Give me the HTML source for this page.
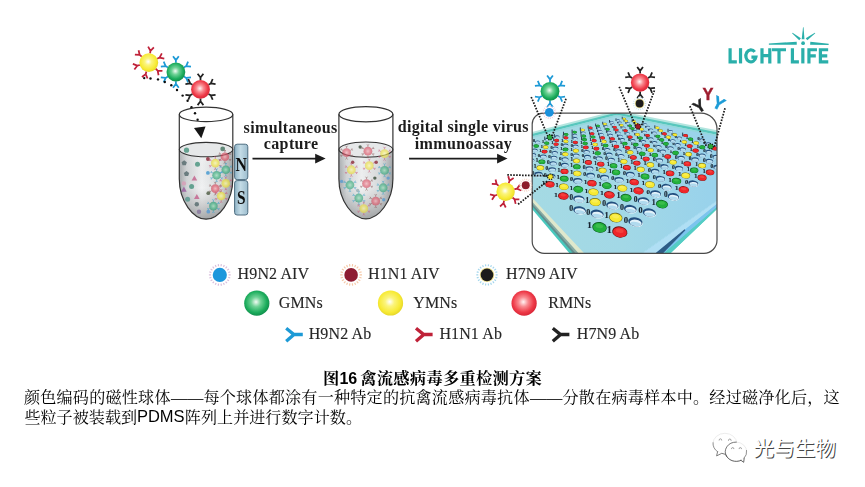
<!DOCTYPE html>
<html><head><meta charset="utf-8"><title>Figure 16</title>
<style>html,body{margin:0;padding:0;background:#fff;}body{width:865px;height:487px;overflow:hidden;font-family:"Liberation Sans",sans-serif;}</style></head>
<body>
<svg width="865" height="487" viewBox="0 0 865 487" style="display:block;font-family:'Liberation Serif',serif" role="img" aria-label="Figure 16: multiplexed avian influenza virus detection scheme">
<defs>
<radialGradient id="gG" cx="47%" cy="45%" r="55%"><stop offset="0" stop-color="#f2fbf4"/><stop offset="0.35" stop-color="#6fd296"/><stop offset="0.75" stop-color="#1fae5e"/><stop offset="1" stop-color="#0e8f4b"/></radialGradient>
<radialGradient id="gY" cx="47%" cy="45%" r="55%"><stop offset="0" stop-color="#ffffff"/><stop offset="0.33" stop-color="#fbf47c"/><stop offset="0.78" stop-color="#f7ea34"/><stop offset="1" stop-color="#e6d72a"/></radialGradient>
<radialGradient id="gR" cx="47%" cy="45%" r="55%"><stop offset="0" stop-color="#fff4f4"/><stop offset="0.35" stop-color="#f98a90"/><stop offset="0.75" stop-color="#ee3a48"/><stop offset="1" stop-color="#d92536"/></radialGradient>
<radialGradient id="sG"><stop offset="0" stop-color="#9fe0bc"/><stop offset="0.6" stop-color="#45b888"/><stop offset="1" stop-color="#2a9a70"/></radialGradient>
<radialGradient id="sY"><stop offset="0" stop-color="#fffbb0"/><stop offset="0.6" stop-color="#f4e84a"/><stop offset="1" stop-color="#e4d63a"/></radialGradient>
<radialGradient id="sR"><stop offset="0" stop-color="#f7aab2"/><stop offset="0.6" stop-color="#e25a6c"/><stop offset="1" stop-color="#cf4458"/></radialGradient>
<linearGradient id="liq" x1="0" y1="0" x2="1" y2="0"><stop offset="0" stop-color="#a4a8ab"/><stop offset="0.14" stop-color="#d2d5d7"/><stop offset="0.42" stop-color="#f1f2f3"/><stop offset="0.78" stop-color="#d6d9da"/><stop offset="1" stop-color="#9b9fa2"/></linearGradient>
<linearGradient id="liqv" x1="0" y1="0" x2="0" y2="1"><stop offset="0" stop-color="#fff" stop-opacity="0.2"/><stop offset="0.55" stop-color="#888" stop-opacity="0"/><stop offset="1" stop-color="#4a4e50" stop-opacity="0.45"/></linearGradient>
<linearGradient id="mag" x1="0" y1="0" x2="1" y2="0"><stop offset="0" stop-color="#8fb3c6"/><stop offset="0.45" stop-color="#c3dbe6"/><stop offset="1" stop-color="#9dbdce"/></linearGradient>
<filter id="soft" x="-5%" y="-5%" width="110%" height="110%"><feGaussianBlur stdDeviation="0.55"/></filter>
<filter id="soft2" x="-5%" y="-5%" width="110%" height="110%"><feGaussianBlur stdDeviation="0.7"/></filter>
<linearGradient id="chipsurf" x1="0" y1="0" x2="1" y2="0"><stop offset="0" stop-color="#a6dbe2"/><stop offset="0.45" stop-color="#a2d8e6"/><stop offset="1" stop-color="#90cdf0"/></linearGradient>
<clipPath id="frameclip"><path d="M543.2 113.1 H701 A16 16 0 0 1 717 129.1 V240.3 A13 13 0 0 1 704 253.3 H544.2 A12 12 0 0 1 532.2 241.3 V124.1 A11 11 0 0 1 543.2 113.1 Z"/></clipPath>

</defs>
<g filter="url(#soft)">
<path d="M150.08 53.49 L150.46 50.82 M150.46 50.82 L153.85 47.42 M150.46 50.82 L148.13 46.62 M157.14 58.71 L159.59 57.57 M159.59 57.57 L164.28 58.57 M159.59 57.57 L161.84 53.33 M155.64 68.76 L157.64 70.56 M157.64 70.56 L158.56 75.27 M157.64 70.56 L162.43 70.98 M146.42 71.49 L145.72 74.09 M145.72 74.09 L141.94 77.05 M145.72 74.09 L147.52 78.54 M139.91 64.98 L137.31 65.68 M137.31 65.68 L132.86 63.88 M137.31 65.68 L134.35 69.46 M141.75 56.69 L139.68 54.95 M139.68 54.95 L138.6 50.27 M139.68 54.95 L134.89 54.7" fill="none" stroke="#bf2038" stroke-width="1.75" stroke-linecap="butt"/>
<circle cx="148.8" cy="62.6" r="9.4" fill="url(#gY)"/>
<path d="M175.9 62.8 L175.9 60.1 M175.9 60.1 L178.79 56.27 M175.9 60.1 L173.01 56.27 M183.87 67.4 L186.21 66.05 M186.21 66.05 L190.97 66.63 M186.21 66.05 L188.08 61.63 M183.87 76.6 L186.21 77.95 M186.21 77.95 L188.08 82.37 M186.21 77.95 L190.97 77.37 M175.9 81.2 L175.9 83.9 M175.9 83.9 L173.01 87.73 M175.9 83.9 L178.79 87.73 M167.93 76.6 L165.59 77.95 M165.59 77.95 L160.83 77.37 M165.59 77.95 L163.72 82.37 M167.93 67.4 L165.59 66.05 M165.59 66.05 L163.72 61.63 M165.59 66.05 L160.83 66.63" fill="none" stroke="#1f9ad6" stroke-width="1.75" stroke-linecap="butt"/>
<circle cx="175.9" cy="72" r="9.4" fill="url(#gG)"/>
<path d="M200.5 80.2 L200.5 77.5 M200.5 77.5 L203.39 73.67 M200.5 77.5 L197.61 73.67 M208.47 84.8 L210.81 83.45 M210.81 83.45 L215.57 84.03 M210.81 83.45 L212.68 79.03 M208.47 94 L210.81 95.35 M210.81 95.35 L212.68 99.77 M210.81 95.35 L215.57 94.77 M200.5 98.6 L200.5 101.3 M200.5 101.3 L197.61 105.13 M200.5 101.3 L203.39 105.13 M192.53 94 L190.19 95.35 M190.19 95.35 L185.43 94.77 M190.19 95.35 L188.32 99.77 M192.53 84.8 L190.19 83.45 M190.19 83.45 L188.32 79.03 M190.19 83.45 L185.43 84.03" fill="none" stroke="#222" stroke-width="1.75" stroke-linecap="butt"/>
<circle cx="200.5" cy="89.4" r="9.4" fill="url(#gR)"/>
<g fill="#111"><circle cx="144.2" cy="78.1" r="1.2"/><circle cx="150.5" cy="78.5" r="1.2"/><circle cx="158" cy="79.4" r="1.2"/><circle cx="164.8" cy="82" r="1.2"/><circle cx="171.3" cy="85.3" r="1.2"/><circle cx="177" cy="90" r="1.2"/><circle cx="182.6" cy="95.6" r="1.2"/><circle cx="187.6" cy="100.8" r="1.2"/><circle cx="191.5" cy="107.3" r="1.2"/><circle cx="195" cy="113.2" r="1.2"/><circle cx="197.6" cy="119.8" r="1.2"/></g>
<path d="M194 127.9 L199.4 127.2 L205.5 126.6 L201.3 138.2 Z" fill="#151515"/>
<path d="M179.3 149.6 V179 C179.3 201.51 193.48 219.2 206.05 219.2 C218.62 219.2 232.8 201.51 232.8 179 V149.6 A26.75 7.2 0 0 1 179.3 149.6 Z" fill="url(#liq)"/>
<path d="M179.3 149.6 V179 C179.3 201.51 193.48 219.2 206.05 219.2 C218.62 219.2 232.8 201.51 232.8 179 V149.6 A26.75 7.2 0 0 1 179.3 149.6 Z" fill="url(#liqv)"/>
<ellipse cx="206.05" cy="149.6" rx="26.75" ry="7.2" fill="#e6e8e9" stroke="#333" stroke-width="1.1"/>
<g filter="url(#soft2)">
<circle cx="186.5" cy="150.2" r="2.6" fill="#4f9683" opacity="0.85"/>
<circle cx="222.7" cy="148.9" r="2.4" fill="#4d7a66" opacity="0.85"/>
<circle cx="197.5" cy="164.2" r="2.5" fill="#4f9683" opacity="0.85"/>
<circle cx="191.6" cy="186.4" r="2.5" fill="#4f9683" opacity="0.85"/>
<circle cx="187.6" cy="199.3" r="2.5" fill="#5a9a90" opacity="0.85"/>
<circle cx="196.8" cy="204.3" r="2.2" fill="#5b6f72" opacity="0.85"/>
<circle cx="199" cy="211.7" r="2.2" fill="#8a78a0" opacity="0.85"/>
<circle cx="183.9" cy="183.4" r="2.2" fill="#d8a0b8" opacity="0.85"/>
<polygon points="184.2,160.3 186.86,162.23 185.85,165.37 182.55,165.37 181.54,162.23" fill="#5b6f72" opacity="0.85"/>
<polygon points="186.5,171 189.16,172.93 188.15,176.07 184.85,176.07 183.84,172.93" fill="#5b6f72" opacity="0.85"/>
<polygon points="194.4,175.4 191.6,180.6 197.2,180.6" fill="#c4668f" opacity="0.85"/>
<polygon points="183.9,186.5 181.1,191.7 186.7,191.7" fill="#9a5fa0" opacity="0.85"/>
<polygon points="196.8,193.9 194,199.1 199.6,199.1" fill="#c4668f" opacity="0.85"/>
<g opacity="0.68">
<path d="M224.9 152.7 L224.9 151.3 M224.9 151.3 L225.86 150.02 M224.9 151.3 L223.94 150.02 M228.45 154.75 L229.66 154.05 M229.66 154.05 L231.25 154.24 M229.66 154.05 L230.29 152.58 M228.45 158.85 L229.66 159.55 M229.66 159.55 L230.29 161.02 M229.66 159.55 L231.25 159.36 M224.9 160.9 L224.9 162.3 M224.9 162.3 L223.94 163.58 M224.9 162.3 L225.86 163.58 M221.35 158.85 L220.14 159.55 M220.14 159.55 L218.55 159.36 M220.14 159.55 L219.51 161.02 M221.35 154.75 L220.14 154.05 M220.14 154.05 L219.51 152.58 M220.14 154.05 L218.55 154.24" fill="none" stroke="#8a5a5a" stroke-width="0.9"/>
<circle cx="224.9" cy="156.8" r="4.3" fill="url(#sR)"/>
</g>
<g opacity="0.68">
<path d="M215.3 159 L215.3 157.6 M215.3 157.6 L216.26 156.32 M215.3 157.6 L214.34 156.32 M218.85 161.05 L220.06 160.35 M220.06 160.35 L221.65 160.54 M220.06 160.35 L220.69 158.88 M218.85 165.15 L220.06 165.85 M220.06 165.85 L220.69 167.32 M220.06 165.85 L221.65 165.66 M215.3 167.2 L215.3 168.6 M215.3 168.6 L214.34 169.88 M215.3 168.6 L216.26 169.88 M211.75 165.15 L210.54 165.85 M210.54 165.85 L208.95 165.66 M210.54 165.85 L209.91 167.32 M211.75 161.05 L210.54 160.35 M210.54 160.35 L209.91 158.88 M210.54 160.35 L208.95 160.54" fill="none" stroke="#c85a78" stroke-width="0.9"/>
<circle cx="215.3" cy="163.1" r="4.3" fill="url(#sY)"/>
</g>
<g opacity="0.68">
<path d="M225.8 165.6 L225.8 164.2 M225.8 164.2 L226.76 162.92 M225.8 164.2 L224.84 162.92 M229.35 167.65 L230.56 166.95 M230.56 166.95 L232.15 167.14 M230.56 166.95 L231.19 165.48 M229.35 171.75 L230.56 172.45 M230.56 172.45 L231.19 173.92 M230.56 172.45 L232.15 172.26 M225.8 173.8 L225.8 175.2 M225.8 175.2 L224.84 176.48 M225.8 175.2 L226.76 176.48 M222.25 171.75 L221.04 172.45 M221.04 172.45 L219.45 172.26 M221.04 172.45 L220.41 173.92 M222.25 167.65 L221.04 166.95 M221.04 166.95 L220.41 165.48 M221.04 166.95 L219.45 167.14" fill="none" stroke="#3aa0c8" stroke-width="0.9"/>
<circle cx="225.8" cy="169.7" r="4.3" fill="url(#sG)"/>
</g>
<g opacity="0.68">
<path d="M216.6 171.2 L216.6 169.8 M216.6 169.8 L217.56 168.52 M216.6 169.8 L215.64 168.52 M220.15 173.25 L221.36 172.55 M221.36 172.55 L222.95 172.74 M221.36 172.55 L221.99 171.08 M220.15 177.35 L221.36 178.05 M221.36 178.05 L221.99 179.52 M221.36 178.05 L222.95 177.86 M216.6 179.4 L216.6 180.8 M216.6 180.8 L215.64 182.08 M216.6 180.8 L217.56 182.08 M213.05 177.35 L211.84 178.05 M211.84 178.05 L210.25 177.86 M211.84 178.05 L211.21 179.52 M213.05 173.25 L211.84 172.55 M211.84 172.55 L211.21 171.08 M211.84 172.55 L210.25 172.74" fill="none" stroke="#3aa0c8" stroke-width="0.9"/>
<circle cx="216.6" cy="175.3" r="4.3" fill="url(#sG)"/>
</g>
<g opacity="0.68">
<path d="M225.8 179.3 L225.8 177.9 M225.8 177.9 L226.76 176.62 M225.8 177.9 L224.84 176.62 M229.35 181.35 L230.56 180.65 M230.56 180.65 L232.15 180.84 M230.56 180.65 L231.19 179.18 M229.35 185.45 L230.56 186.15 M230.56 186.15 L231.19 187.62 M230.56 186.15 L232.15 185.96 M225.8 187.5 L225.8 188.9 M225.8 188.9 L224.84 190.18 M225.8 188.9 L226.76 190.18 M222.25 185.45 L221.04 186.15 M221.04 186.15 L219.45 185.96 M221.04 186.15 L220.41 187.62 M222.25 181.35 L221.04 180.65 M221.04 180.65 L220.41 179.18 M221.04 180.65 L219.45 180.84" fill="none" stroke="#c85a78" stroke-width="0.9"/>
<circle cx="225.8" cy="183.4" r="4.3" fill="url(#sY)"/>
</g>
<g opacity="0.68">
<path d="M215.3 184.5 L215.3 183.1 M215.3 183.1 L216.26 181.82 M215.3 183.1 L214.34 181.82 M218.85 186.55 L220.06 185.85 M220.06 185.85 L221.65 186.04 M220.06 185.85 L220.69 184.38 M218.85 190.65 L220.06 191.35 M220.06 191.35 L220.69 192.82 M220.06 191.35 L221.65 191.16 M215.3 192.7 L215.3 194.1 M215.3 194.1 L214.34 195.38 M215.3 194.1 L216.26 195.38 M211.75 190.65 L210.54 191.35 M210.54 191.35 L208.95 191.16 M210.54 191.35 L209.91 192.82 M211.75 186.55 L210.54 185.85 M210.54 185.85 L209.91 184.38 M210.54 185.85 L208.95 186.04" fill="none" stroke="#8a5a5a" stroke-width="0.9"/>
<circle cx="215.3" cy="188.6" r="4.3" fill="url(#sR)"/>
</g>
<g opacity="0.68">
<path d="M221.2 191.9 L221.2 190.5 M221.2 190.5 L222.16 189.22 M221.2 190.5 L220.24 189.22 M224.75 193.95 L225.96 193.25 M225.96 193.25 L227.55 193.44 M225.96 193.25 L226.59 191.78 M224.75 198.05 L225.96 198.75 M225.96 198.75 L226.59 200.22 M225.96 198.75 L227.55 198.56 M221.2 200.1 L221.2 201.5 M221.2 201.5 L220.24 202.78 M221.2 201.5 L222.16 202.78 M217.65 198.05 L216.44 198.75 M216.44 198.75 L214.85 198.56 M216.44 198.75 L215.81 200.22 M217.65 193.95 L216.44 193.25 M216.44 193.25 L215.81 191.78 M216.44 193.25 L214.85 193.44" fill="none" stroke="#c85a78" stroke-width="0.9"/>
<circle cx="221.2" cy="196" r="4.3" fill="url(#sY)"/>
</g>
<g opacity="0.68">
<path d="M213.4 202 L213.4 200.6 M213.4 200.6 L214.36 199.32 M213.4 200.6 L212.44 199.32 M216.95 204.05 L218.16 203.35 M218.16 203.35 L219.75 203.54 M218.16 203.35 L218.79 201.88 M216.95 208.15 L218.16 208.85 M218.16 208.85 L218.79 210.32 M218.16 208.85 L219.75 208.66 M213.4 210.2 L213.4 211.6 M213.4 211.6 L212.44 212.88 M213.4 211.6 L214.36 212.88 M209.85 208.15 L208.64 208.85 M208.64 208.85 L207.05 208.66 M208.64 208.85 L208.01 210.32 M209.85 204.05 L208.64 203.35 M208.64 203.35 L208.01 201.88 M208.64 203.35 L207.05 203.54" fill="none" stroke="#3aa0c8" stroke-width="0.9"/>
<circle cx="213.4" cy="206.1" r="4.3" fill="url(#sG)"/>
</g>
<circle cx="207.9" cy="159" r="1.9" fill="#8c2a3a" opacity="0.85"/>
<circle cx="207.9" cy="172.9" r="1.9" fill="#4a9ad0" opacity="0.85"/>
<circle cx="208.3" cy="193.2" r="1.9" fill="#55604a" opacity="0.85"/>
<circle cx="208.3" cy="211.7" r="1.9" fill="#5a9ad0" opacity="0.85"/>
</g>
<path d="M179.3 114.4 V179 C179.3 201.51 193.48 219.2 206.05 219.2 C218.62 219.2 232.8 201.51 232.8 179 V114.4" fill="none" stroke="#333" stroke-width="1.2"/>
<ellipse cx="206.05" cy="114.4" rx="26.75" ry="7.2" fill="none" stroke="#333" stroke-width="1.2"/>
<rect x="234.6" y="144.2" width="13.2" height="35.4" rx="2.5" fill="url(#mag)" stroke="#4e6d80" stroke-width="1"/>
<rect x="234.6" y="180.6" width="13.2" height="34.4" rx="2.5" fill="url(#mag)" stroke="#4e6d80" stroke-width="1"/>
<text transform="translate(241.3 170.6) scale(0.88 1)" text-anchor="middle" font-family="Liberation Serif, serif" font-weight="700" font-size="18" fill="#111">N</text>
<text transform="translate(241.2 203.6) scale(0.86 1)" text-anchor="middle" font-family="Liberation Serif, serif" font-weight="700" font-size="18" fill="#111">S</text>
<g font-family="Liberation Serif, serif" font-weight="700" font-size="16" fill="#1a1a1a" letter-spacing="0.36">
<text x="243.6" y="132.9">simultaneous</text>
<text x="263.8" y="148.8">capture</text>
<text x="397.8" y="131.5" letter-spacing="0.28">digital single virus</text>
<text x="414.8" y="148.5">immunoassay</text>
</g>
<path d="M252.5 158.6 H316" stroke="#1a1a1a" stroke-width="1.6" fill="none"/><path d="M315.2 153.8 L325.6 158.6 L315.2 163.4 Z" fill="#1a1a1a"/>
<path d="M409.1 158.6 H498" stroke="#1a1a1a" stroke-width="1.6" fill="none"/><path d="M497.1 153.7 L507.5 158.6 L497.1 163.5 Z" fill="#1a1a1a"/>
<path d="M338.9 149.6 V179 C338.9 201.29 353.21 218.8 365.9 218.8 C378.59 218.8 392.9 201.29 392.9 179 V149.6 A27 7.6 0 0 1 338.9 149.6 Z" fill="url(#liq)"/>
<path d="M338.9 149.6 V179 C338.9 201.29 353.21 218.8 365.9 218.8 C378.59 218.8 392.9 201.29 392.9 179 V149.6 A27 7.6 0 0 1 338.9 149.6 Z" fill="url(#liqv)"/>
<ellipse cx="365.9" cy="149.6" rx="27" ry="7.6" fill="#e6e8e9" stroke="#333" stroke-width="1.1"/>
<g filter="url(#soft2)">
<g opacity="0.62">
<path d="M346.6 148.4 L346.6 147 M346.6 147 L347.56 145.72 M346.6 147 L345.64 145.72 M350.24 150.5 L351.45 149.8 M351.45 149.8 L353.04 150 M351.45 149.8 L352.08 148.33 M350.24 154.7 L351.45 155.4 M351.45 155.4 L352.08 156.87 M351.45 155.4 L353.04 155.21 M346.6 156.8 L346.6 158.2 M346.6 158.2 L345.64 159.48 M346.6 158.2 L347.56 159.48 M342.96 154.7 L341.75 155.4 M341.75 155.4 L340.16 155.21 M341.75 155.4 L341.13 156.87 M342.96 150.5 L341.75 149.8 M341.75 149.8 L341.13 148.33 M341.75 149.8 L340.16 150" fill="none" stroke="#8a5a5a" stroke-width="0.9"/>
<circle cx="346.6" cy="152.6" r="4.4" fill="url(#sR)"/>
</g>
<g opacity="0.62">
<path d="M367.92 147.02 L367.92 145.62 M367.92 145.62 L368.89 144.34 M367.92 145.62 L366.96 144.34 M371.56 149.12 L372.77 148.42 M372.77 148.42 L374.36 148.61 M372.77 148.42 L373.4 146.94 M371.56 153.32 L372.77 154.02 M372.77 154.02 L373.4 155.49 M372.77 154.02 L374.36 153.82 M367.92 155.42 L367.92 156.82 M367.92 156.82 L366.96 158.09 M367.92 156.82 L368.89 158.09 M364.29 153.32 L363.07 154.02 M363.07 154.02 L361.49 153.82 M363.07 154.02 L362.45 155.49 M364.29 149.12 L363.07 148.42 M363.07 148.42 L362.45 146.94 M363.07 148.42 L361.49 148.61" fill="none" stroke="#8a5a5a" stroke-width="0.9"/>
<circle cx="367.92" cy="151.22" r="4.4" fill="url(#sR)"/>
</g>
<g opacity="0.62">
<path d="M384.54 149.51 L384.54 148.11 M384.54 148.11 L385.5 146.83 M384.54 148.11 L383.58 146.83 M388.18 151.61 L389.39 150.91 M389.39 150.91 L390.98 151.1 M389.39 150.91 L390.02 149.44 M388.18 155.81 L389.39 156.51 M389.39 156.51 L390.02 157.98 M389.39 156.51 L390.98 156.31 M384.54 157.91 L384.54 159.31 M384.54 159.31 L383.58 160.59 M384.54 159.31 L385.5 160.59 M380.9 155.81 L379.69 156.51 M379.69 156.51 L378.1 156.31 M379.69 156.51 L379.07 157.98 M380.9 151.61 L379.69 150.91 M379.69 150.91 L379.07 149.44 M379.69 150.91 L378.1 151.1" fill="none" stroke="#c85a78" stroke-width="0.9"/>
<circle cx="384.54" cy="153.71" r="4.4" fill="url(#sY)"/>
</g>
<g opacity="0.62">
<path d="M351.31 165.57 L351.31 164.17 M351.31 164.17 L352.27 162.89 M351.31 164.17 L350.35 162.89 M354.95 167.67 L356.16 166.97 M356.16 166.97 L357.75 167.17 M356.16 166.97 L356.78 165.5 M354.95 171.87 L356.16 172.57 M356.16 172.57 L356.78 174.04 M356.16 172.57 L357.75 172.38 M351.31 173.97 L351.31 175.37 M351.31 175.37 L350.35 176.65 M351.31 175.37 L352.27 176.65 M347.67 171.87 L346.46 172.57 M346.46 172.57 L344.87 172.38 M346.46 172.57 L345.83 174.04 M347.67 167.67 L346.46 166.97 M346.46 166.97 L345.83 165.5 M346.46 166.97 L344.87 167.17" fill="none" stroke="#c85a78" stroke-width="0.9"/>
<circle cx="351.31" cy="169.77" r="4.4" fill="url(#sY)"/>
</g>
<g opacity="0.62">
<path d="M369.31 161.42 L369.31 160.02 M369.31 160.02 L370.27 158.74 M369.31 160.02 L368.35 158.74 M372.95 163.52 L374.16 162.82 M374.16 162.82 L375.75 163.01 M374.16 162.82 L374.78 161.34 M372.95 167.72 L374.16 168.42 M374.16 168.42 L374.78 169.89 M374.16 168.42 L375.75 168.22 M369.31 169.82 L369.31 171.22 M369.31 171.22 L368.35 172.5 M369.31 171.22 L370.27 172.5 M365.67 167.72 L364.46 168.42 M364.46 168.42 L362.87 168.22 M364.46 168.42 L363.83 169.89 M365.67 163.52 L364.46 162.82 M364.46 162.82 L363.83 161.34 M364.46 162.82 L362.87 163.01" fill="none" stroke="#c85a78" stroke-width="0.9"/>
<circle cx="369.31" cy="165.62" r="4.4" fill="url(#sY)"/>
</g>
<g opacity="0.62">
<path d="M384.54 166.13 L384.54 164.73 M384.54 164.73 L385.5 163.45 M384.54 164.73 L383.58 163.45 M388.18 168.23 L389.39 167.53 M389.39 167.53 L390.98 167.72 M389.39 167.53 L390.02 166.05 M388.18 172.43 L389.39 173.13 M389.39 173.13 L390.02 174.6 M389.39 173.13 L390.98 172.93 M384.54 174.53 L384.54 175.93 M384.54 175.93 L383.58 177.2 M384.54 175.93 L385.5 177.2 M380.9 172.43 L379.69 173.13 M379.69 173.13 L378.1 172.93 M379.69 173.13 L379.07 174.6 M380.9 168.23 L379.69 167.53 M379.69 167.53 L379.07 166.05 M379.69 167.53 L378.1 167.72" fill="none" stroke="#3aa0c8" stroke-width="0.9"/>
<circle cx="384.54" cy="170.33" r="4.4" fill="url(#sG)"/>
</g>
<g opacity="0.62">
<path d="M349.92 180.8 L349.92 179.4 M349.92 179.4 L350.89 178.12 M349.92 179.4 L348.96 178.12 M353.56 182.9 L354.77 182.2 M354.77 182.2 L356.36 182.4 M354.77 182.2 L355.4 180.73 M353.56 187.1 L354.77 187.8 M354.77 187.8 L355.4 189.28 M354.77 187.8 L356.36 187.61 M349.92 189.2 L349.92 190.6 M349.92 190.6 L348.96 191.88 M349.92 190.6 L350.89 191.88 M346.29 187.1 L345.07 187.8 M345.07 187.8 L343.49 187.61 M345.07 187.8 L344.45 189.28 M346.29 182.9 L345.07 182.2 M345.07 182.2 L344.45 180.73 M345.07 182.2 L343.49 182.4" fill="none" stroke="#3aa0c8" stroke-width="0.9"/>
<circle cx="349.92" cy="185" r="4.4" fill="url(#sG)"/>
</g>
<g opacity="0.62">
<path d="M366.54 179.42 L366.54 178.02 M366.54 178.02 L367.5 176.74 M366.54 178.02 L365.58 176.74 M370.18 181.52 L371.39 180.82 M371.39 180.82 L372.98 181.01 M371.39 180.82 L372.01 179.35 M370.18 185.72 L371.39 186.42 M371.39 186.42 L372.01 187.89 M371.39 186.42 L372.98 186.22 M366.54 187.82 L366.54 189.22 M366.54 189.22 L365.58 190.5 M366.54 189.22 L367.5 190.5 M362.9 185.72 L361.69 186.42 M361.69 186.42 L360.1 186.22 M361.69 186.42 L361.06 187.89 M362.9 181.52 L361.69 180.82 M361.69 180.82 L361.06 179.35 M361.69 180.82 L360.1 181.01" fill="none" stroke="#8a5a5a" stroke-width="0.9"/>
<circle cx="366.54" cy="183.62" r="4.4" fill="url(#sR)"/>
</g>
<g opacity="0.62">
<path d="M383.16 183.57 L383.16 182.17 M383.16 182.17 L384.12 180.89 M383.16 182.17 L382.19 180.89 M386.79 185.67 L388.01 184.97 M388.01 184.97 L389.59 185.17 M388.01 184.97 L388.63 183.5 M386.79 189.87 L388.01 190.57 M388.01 190.57 L388.63 192.04 M388.01 190.57 L389.59 190.38 M383.16 191.97 L383.16 193.37 M383.16 193.37 L382.19 194.65 M383.16 193.37 L384.12 194.65 M379.52 189.87 L378.31 190.57 M378.31 190.57 L376.72 190.38 M378.31 190.57 L377.68 192.04 M379.52 185.67 L378.31 184.97 M378.31 184.97 L377.68 183.5 M378.31 184.97 L376.72 185.17" fill="none" stroke="#3aa0c8" stroke-width="0.9"/>
<circle cx="383.16" cy="187.77" r="4.4" fill="url(#sG)"/>
</g>
<g opacity="0.62">
<path d="M358.79 193.82 L358.79 192.42 M358.79 192.42 L359.75 191.14 M358.79 192.42 L357.82 191.14 M362.42 195.92 L363.64 195.22 M363.64 195.22 L365.22 195.41 M363.64 195.22 L364.26 193.75 M362.42 200.12 L363.64 200.82 M363.64 200.82 L364.26 202.29 M363.64 200.82 L365.22 200.62 M358.79 202.22 L358.79 203.62 M358.79 203.62 L357.82 204.9 M358.79 203.62 L359.75 204.9 M355.15 200.12 L353.94 200.82 M353.94 200.82 L352.35 200.62 M353.94 200.82 L353.31 202.29 M355.15 195.92 L353.94 195.22 M353.94 195.22 L353.31 193.75 M353.94 195.22 L352.35 195.41" fill="none" stroke="#3aa0c8" stroke-width="0.9"/>
<circle cx="358.79" cy="198.02" r="4.4" fill="url(#sG)"/>
</g>
<g opacity="0.62">
<path d="M375.68 196.86 L375.68 195.46 M375.68 195.46 L376.64 194.19 M375.68 195.46 L374.72 194.19 M379.32 198.96 L380.53 198.26 M380.53 198.26 L382.12 198.46 M380.53 198.26 L381.15 196.79 M379.32 203.16 L380.53 203.86 M380.53 203.86 L381.15 205.34 M380.53 203.86 L382.12 203.67 M375.68 205.26 L375.68 206.66 M375.68 206.66 L374.72 207.94 M375.68 206.66 L376.64 207.94 M372.04 203.16 L370.83 203.86 M370.83 203.86 L369.24 203.67 M370.83 203.86 L370.2 205.34 M372.04 198.96 L370.83 198.26 M370.83 198.26 L370.2 196.79 M370.83 198.26 L369.24 198.46" fill="none" stroke="#8a5a5a" stroke-width="0.9"/>
<circle cx="375.68" cy="201.06" r="4.4" fill="url(#sR)"/>
</g>
<g opacity="0.62">
<path d="M363.77 204.34 L363.77 202.94 M363.77 202.94 L364.73 201.66 M363.77 202.94 L362.81 201.66 M367.41 206.44 L368.62 205.74 M368.62 205.74 L370.21 205.94 M368.62 205.74 L369.25 204.27 M367.41 210.64 L368.62 211.34 M368.62 211.34 L369.25 212.81 M368.62 211.34 L370.21 211.15 M363.77 212.74 L363.77 214.14 M363.77 214.14 L362.81 215.42 M363.77 214.14 L364.73 215.42 M360.13 210.64 L358.92 211.34 M358.92 211.34 L357.33 211.15 M358.92 211.34 L358.3 212.81 M360.13 206.44 L358.92 205.74 M358.92 205.74 L358.3 204.27 M358.92 205.74 L357.33 205.94" fill="none" stroke="#c85a78" stroke-width="0.9"/>
<circle cx="363.77" cy="208.54" r="4.4" fill="url(#sY)"/>
</g>
<circle cx="360.17" cy="147.06" r="1.7" fill="#3a4a3a" opacity="0.8"/>
<circle cx="352.69" cy="162.29" r="1.7" fill="#8c2a3a" opacity="0.8"/>
<circle cx="376.23" cy="162.29" r="1.7" fill="#8c2a3a" opacity="0.8"/>
<circle cx="374.85" cy="178.08" r="1.7" fill="#3a4a3a" opacity="0.8"/>
<circle cx="341.62" cy="181.4" r="1.7" fill="#5a9ad0" opacity="0.8"/>
<circle cx="388.14" cy="178.08" r="1.7" fill="#5a9ad0" opacity="0.8"/>
<circle cx="383.71" cy="199.68" r="1.7" fill="#5a9ad0" opacity="0.8"/>
<circle cx="357.68" cy="190.54" r="1.7" fill="#9ab0b8" opacity="0.8"/>
</g>
<path d="M338.9 114.2 V179 C338.9 201.29 353.21 218.8 365.9 218.8 C378.59 218.8 392.9 201.29 392.9 179 V114.2" fill="none" stroke="#333" stroke-width="1.2"/>
<ellipse cx="365.9" cy="114.2" rx="27" ry="7.6" fill="none" stroke="#333" stroke-width="1.2"/>
<g clip-path="url(#frameclip)">
<rect x="530" y="112" width="190" height="143" fill="#fff"/>
<polygon points="500,162.38 612,280.94 612,303.64 500,171.03" fill="#49c8bd"/>
<polygon points="500,162.38 612,280.94 612,298.27 500,168.99" fill="#5f8f8e"/>
<polygon points="500,162.38 612,280.94 612,294.56 500,167.57" fill="#86aaa4"/>
<polygon points="500,162.38 612,280.94 612,290.43 500,166" fill="#dfe8cc"/>
<polygon points="596,285.64 745,181.22 745,182.19 596,324.22" fill="#55cdc4"/>
<polygon points="596,285.64 745,181.22 745,182.47 596,312.63" fill="#7cc4ee"/>
<polygon points="616.8,112.5 484.06,146.2 607.15,277.82 793.2,147.43" fill="url(#chipsurf)"/>
<polygon points="596,285.64 745,181.22 745,181.59 596,301.14" fill="#b0dff4"/>
<polygon points="596,301.14 745,181.59 745,182.47 596,312.63" fill="#7cc4ee"/>
<polygon points="596,312.63 745,182.47 745,182.19 596,324.22" fill="#55cdc4"/>
<polygon points="684.6,229.2 650,257.81 658,258.47 685.4,230.2" fill="#2d5b86"/>
<path d="M484.06 146.5 L616.8 112.8 L793.2 147.73" fill="none" stroke="#b4e5df" stroke-width="4.6" stroke-linejoin="miter"/>
<path d="M484.06 147.4 L616.8 113.7 L793.2 148.63" fill="none" stroke="#58c7bd" stroke-width="2.3" stroke-linejoin="miter"/>
<path d="M484.06 149.3 L616.8 115.6 L793.2 150.53" fill="none" stroke="#93d8dc" stroke-width="1.5" stroke-linejoin="miter"/>
<g font-weight="700" fill="#17222e" stroke="#17222e" stroke-width="0.18" text-anchor="middle" font-family="Liberation Serif, serif"><path d="M622.24 116.78 v2.52" stroke="#1f3042" stroke-width="0.9"/><path d="M616.02 118.38 v2.6" stroke="#1f3042" stroke-width="0.9"/><path d="M623.97 118.87 v2.64" stroke="#1f3042" stroke-width="0.9"/><path d="M632.11 119.38 v2.69" stroke="#1f3042" stroke-width="0.9"/><path d="M609.52 120.04 v2.69" stroke="#1f3042" stroke-width="0.9"/><path d="M617.58 120.56 v2.73" stroke="#1f3042" stroke-width="0.9"/><path d="M625.83 121.1 v2.78" stroke="#1f3042" stroke-width="0.9"/><path d="M634.28 121.65 v2.84" stroke="#1f3042" stroke-width="0.9"/><path d="M642.93 122.22 v2.89" stroke="#1f3042" stroke-width="0.9"/><path d="M602.73 121.77 v2.78" stroke="#1f3042" stroke-width="0.9"/><path d="M610.89 122.33 v2.83" stroke="#1f3042" stroke-width="0.9"/><path d="M619.25 122.91 v2.88" stroke="#1f3042" stroke-width="0.9"/><path d="M627.81 123.49 v2.94" stroke="#1f3042" stroke-width="0.9"/><path d="M636.59 124.09 v2.99" stroke="#1f3042" stroke-width="0.9"/><path d="M645.6 124.71 v3.05" stroke="#1f3042" stroke-width="0.9"/><path d="M654.84 125.34 v3.11" stroke="#1f3042" stroke-width="0.9"/><path d="M595.62 123.59 v2.88" stroke="#1f3042" stroke-width="0.9"/><path d="M603.88 124.19 v2.93" stroke="#1f3042" stroke-width="0.9"/><path d="M612.35 124.79 v2.99" stroke="#1f3042" stroke-width="0.9"/><path d="M621.03 125.42 v3.04" stroke="#1f3042" stroke-width="0.9"/><path d="M629.94 126.06 v3.1" stroke="#1f3042" stroke-width="0.9"/><path d="M639.09 126.72 v3.17" stroke="#1f3042" stroke-width="0.9"/><path d="M648.47 127.39 v3.23" stroke="#1f3042" stroke-width="0.9"/><path d="M658.11 128.08 v3.29" stroke="#1f3042" stroke-width="0.9"/><path d="M668.01 128.8 v3.36" stroke="#1f3042" stroke-width="0.9"/><path d="M588.16 125.49 v2.98" stroke="#1f3042" stroke-width="0.9"/><path d="M596.53 126.13 v3.04" stroke="#1f3042" stroke-width="0.9"/><path d="M605.11 126.78 v3.1" stroke="#1f3042" stroke-width="0.9"/><path d="M613.92 127.44 v3.16" stroke="#1f3042" stroke-width="0.9"/><path d="M622.96 128.12 v3.22" stroke="#1f3042" stroke-width="0.9"/><path d="M632.24 128.83 v3.29" stroke="#1f3042" stroke-width="0.9"/><path d="M641.78 129.55 v3.35" stroke="#1f3042" stroke-width="0.9"/><path d="M651.57 130.29 v3.42" stroke="#1f3042" stroke-width="0.9"/><path d="M661.65 131.04 v3.5" stroke="#1f3042" stroke-width="0.9"/><path d="M672.01 131.83 v3.57" stroke="#1f3042" stroke-width="0.9"/><path d="M682.66 132.63 v3.65" stroke="#1f3042" stroke-width="0.9"/><path d="M580.34 127.49 v3.09" stroke="#1f3042" stroke-width="0.9"/><path d="M588.81 128.16 v3.15" stroke="#1f3042" stroke-width="0.9"/><path d="M597.51 128.85 v3.22" stroke="#1f3042" stroke-width="0.9"/><path d="M606.44 129.56 v3.28" stroke="#1f3042" stroke-width="0.9"/><path d="M615.61 130.29 v3.35" stroke="#1f3042" stroke-width="0.9"/><path d="M625.03 131.04 v3.42" stroke="#1f3042" stroke-width="0.9"/><path d="M634.72 131.81 v3.49" stroke="#1f3042" stroke-width="0.9"/><path d="M644.68 132.6 v3.56" stroke="#1f3042" stroke-width="0.9"/><path d="M654.93 133.42 v3.64" stroke="#1f3042" stroke-width="0.9"/><text x="664.99" y="137.53" font-size="4.1">1</text><text x="675.84" y="138.46" font-size="4.16">0</text><text x="687.01" y="139.42" font-size="4.22">1</text><text x="698.53" y="140.41" font-size="4.29">0</text><path d="M572.12 129.58 v3.21" stroke="#1f3042" stroke-width="0.9"/><path d="M580.7 130.3 v3.27" stroke="#1f3042" stroke-width="0.9"/><path d="M589.51 131.04 v3.34" stroke="#1f3042" stroke-width="0.9"/><path d="M598.56 131.8 v3.41" stroke="#1f3042" stroke-width="0.9"/><path d="M607.87 132.58 v3.48" stroke="#1f3042" stroke-width="0.9"/><path d="M617.43 133.38 v3.56" stroke="#1f3042" stroke-width="0.9"/><path d="M627.28 134.2 v3.63" stroke="#1f3042" stroke-width="0.9"/><path d="M637.4 135.05 v3.71" stroke="#1f3042" stroke-width="0.9"/><text x="647.34" y="139.26" font-size="4.16">0</text><text x="658.06" y="140.23" font-size="4.22">1</text><text x="669.12" y="141.23" font-size="4.28">0</text><text x="680.52" y="142.27" font-size="4.34">1</text><text x="692.27" y="143.33" font-size="4.41">1</text><text x="704.41" y="144.43" font-size="4.48">0</text><text x="716.93" y="145.57" font-size="4.55">1</text><path d="M563.48 131.78 v3.33" stroke="#1f3042" stroke-width="0.9"/><path d="M572.16 132.55 v3.4" stroke="#1f3042" stroke-width="0.9"/><path d="M581.09 133.34 v3.48" stroke="#1f3042" stroke-width="0.9"/><path d="M590.26 134.15 v3.55" stroke="#1f3042" stroke-width="0.9"/><path d="M599.7 134.98 v3.63" stroke="#1f3042" stroke-width="0.9"/><path d="M609.41 135.84 v3.71" stroke="#1f3042" stroke-width="0.9"/><text x="618.92" y="140.06" font-size="4.15">0</text><text x="629.2" y="141.04" font-size="4.21">0</text><text x="639.8" y="142.05" font-size="4.27">0</text><text x="650.73" y="143.1" font-size="4.34">0</text><text x="662" y="144.17" font-size="4.41">1</text><text x="673.63" y="145.28" font-size="4.47">0</text><text x="685.63" y="146.43" font-size="4.55">1</text><text x="698.03" y="147.62" font-size="4.62">1</text><text x="710.85" y="148.84" font-size="4.7">1</text><path d="M554.38 134.1 v3.47" stroke="#1f3042" stroke-width="0.9"/><path d="M563.17 134.92 v3.54" stroke="#1f3042" stroke-width="0.9"/><path d="M572.2 135.76 v3.62" stroke="#1f3042" stroke-width="0.9"/><path d="M581.5 136.63 v3.7" stroke="#1f3042" stroke-width="0.9"/><text x="590.58" y="140.85" font-size="4.15">1</text><text x="600.43" y="141.84" font-size="4.21">1</text><text x="610.57" y="142.87" font-size="4.27">0</text><text x="621.03" y="143.92" font-size="4.33">1</text><text x="631.82" y="145.01" font-size="4.4">1</text><text x="642.95" y="146.13" font-size="4.47">1</text><text x="654.44" y="147.29" font-size="4.54">0</text><text x="666.31" y="148.49" font-size="4.62">0</text><text x="678.57" y="149.73" font-size="4.69">0</text><text x="691.25" y="151.01" font-size="4.78">1</text><text x="704.37" y="152.33" font-size="4.86">0</text><text x="717.94" y="153.7" font-size="4.95">1</text><path d="M544.78 136.54 v3.61" stroke="#1f3042" stroke-width="0.9"/><path d="M553.67 137.42 v3.69" stroke="#1f3042" stroke-width="0.9"/><text x="562.33" y="141.64" font-size="4.14">1</text><text x="571.74" y="142.64" font-size="4.2">1</text><text x="581.43" y="143.68" font-size="4.26">1</text><text x="591.43" y="144.74" font-size="4.33">1</text><text x="601.73" y="145.84" font-size="4.39">1</text><text x="612.37" y="146.98" font-size="4.46">1</text><text x="623.34" y="148.15" font-size="4.53">1</text><text x="634.68" y="149.36" font-size="4.61">0</text><text x="646.4" y="150.61" font-size="4.69">1</text><text x="658.51" y="151.9" font-size="4.77">0</text><text x="671.04" y="153.24" font-size="4.85">1</text><text x="684.01" y="154.63" font-size="4.94">1</text><text x="697.44" y="156.06" font-size="5.03">0</text><text x="711.36" y="157.55" font-size="5.13">0</text><text x="534.15" y="142.43" font-size="4.13">0</text><text x="543.13" y="143.44" font-size="4.19">1</text><text x="552.38" y="144.49" font-size="4.25">1</text><text x="561.91" y="145.57" font-size="4.32">0</text><text x="571.74" y="146.68" font-size="4.38">0</text><text x="581.88" y="147.82" font-size="4.45">1</text><text x="592.35" y="149.01" font-size="4.53">1</text><text x="603.16" y="150.23" font-size="4.6">0</text><text x="614.33" y="151.49" font-size="4.68">0</text><text x="625.88" y="152.8" font-size="4.76">1</text><text x="637.82" y="154.15" font-size="4.84">1</text><text x="650.18" y="155.55" font-size="4.93">1</text><text x="662.99" y="156.99" font-size="5.03">1</text><text x="676.26" y="158.5" font-size="5.12">0</text><text x="690.02" y="160.05" font-size="5.22">0</text><text x="704.29" y="161.67" font-size="5.33">0</text><text x="719.12" y="163.35" font-size="5.44">1</text><text x="523.41" y="145.3" font-size="4.25">1</text><text x="532.48" y="146.38" font-size="4.31">1</text><text x="541.84" y="147.51" font-size="4.38">1</text><text x="551.49" y="148.66" font-size="4.45">0</text><text x="561.45" y="149.86" font-size="4.52">1</text><text x="571.74" y="151.09" font-size="4.59">1</text><text x="582.37" y="152.37" font-size="4.67">0</text><text x="593.35" y="153.69" font-size="4.75">1</text><text x="604.72" y="155.05" font-size="4.84">0</text><text x="616.48" y="156.46" font-size="4.92">0</text><text x="628.66" y="157.92" font-size="5.02">1</text><text x="641.28" y="159.44" font-size="5.11">1</text><text x="654.37" y="161.01" font-size="5.21">0</text><text x="667.95" y="162.64" font-size="5.32">1</text><text x="682.05" y="164.34" font-size="5.43">1</text><text x="696.7" y="166.1" font-size="5.54">1</text><text x="711.93" y="167.93" font-size="5.67">0</text><text x="521.19" y="149.5" font-size="4.44">0</text><text x="530.65" y="150.71" font-size="4.51">0</text><text x="540.42" y="151.95" font-size="4.59">1</text><text x="550.51" y="153.24" font-size="4.66">0</text><text x="560.94" y="154.57" font-size="4.74">1</text><text x="571.73" y="155.95" font-size="4.83">0</text><text x="582.89" y="157.37" font-size="4.91">0</text><text x="594.45" y="158.85" font-size="5.01">0</text><text x="606.43" y="160.38" font-size="5.1">0</text><text x="618.85" y="161.97" font-size="5.2">1</text><text x="631.74" y="163.61" font-size="5.31">1</text><text x="645.12" y="165.32" font-size="5.42">1</text><text x="659.02" y="167.1" font-size="5.53">0</text><text x="673.47" y="168.94" font-size="5.65">0</text><text x="688.51" y="170.87" font-size="5.78">1</text><text x="704.17" y="172.87" font-size="5.92">1</text><text x="518.76" y="154.11" font-size="4.65">1</text><text x="528.63" y="155.46" font-size="4.74">0</text><text x="538.85" y="156.84" font-size="4.82">0</text><text x="549.42" y="158.28" font-size="4.91">0</text><text x="560.37" y="159.77" font-size="5">0</text><text x="571.71" y="161.32" font-size="5.09">1</text><text x="583.46" y="162.92" font-size="5.19">1</text><text x="595.66" y="164.58" font-size="5.3">1</text><text x="608.33" y="166.3" font-size="5.41">1</text><text x="621.48" y="168.09" font-size="5.52">1</text><text x="635.16" y="169.96" font-size="5.64">1</text><text x="649.39" y="171.9" font-size="5.77">0</text><text x="664.21" y="173.92" font-size="5.9">1</text><text x="679.66" y="176.02" font-size="6.04">1</text><text x="695.77" y="178.22" font-size="6.19">1</text><text x="526.4" y="160.69" font-size="4.99">0</text><text x="537.11" y="162.25" font-size="5.08">1</text><text x="548.21" y="163.86" font-size="5.18">0</text><text x="559.72" y="165.54" font-size="5.29">0</text><text x="571.67" y="167.28" font-size="5.4">1</text><text x="584.09" y="169.09" font-size="5.51">0</text><text x="597" y="170.97" font-size="5.63">1</text><text x="610.43" y="172.92" font-size="5.76">1</text><text x="624.42" y="174.96" font-size="5.89">0</text><text x="638.99" y="177.08" font-size="6.03">1</text><text x="654.19" y="179.3" font-size="6.18">0</text><text x="670.05" y="181.61" font-size="6.33">1</text><text x="686.63" y="184.03" font-size="6.5">0</text><text x="523.91" y="166.5" font-size="5.28">0</text><text x="535.16" y="168.25" font-size="5.38">1</text><text x="546.84" y="170.08" font-size="5.5">0</text><text x="558.99" y="171.97" font-size="5.62">1</text><text x="571.62" y="173.94" font-size="5.74">1</text><text x="584.78" y="176" font-size="5.88">0</text><text x="598.49" y="178.14" font-size="6.01">0</text><text x="612.78" y="180.37" font-size="6.16">0</text><text x="627.7" y="182.7" font-size="6.32">1</text><text x="643.3" y="185.14" font-size="6.48">1</text><text x="659.6" y="187.69" font-size="6.65">0</text><text x="676.67" y="190.35" font-size="6.83">1</text><text x="532.97" y="174.96" font-size="5.73">0</text><text x="545.31" y="177.03" font-size="5.86">0</text><text x="558.15" y="179.19" font-size="6">1</text><text x="571.55" y="181.44" font-size="6.15">0</text><text x="585.54" y="183.79" font-size="6.3">1</text><text x="600.15" y="186.24" font-size="6.46">1</text><text x="615.43" y="188.81" font-size="6.63">1</text><text x="631.42" y="191.5" font-size="6.82">1</text><text x="648.18" y="194.32" font-size="7.01">0</text><text x="665.77" y="197.28" font-size="7.21">0</text><text x="543.56" y="184.87" font-size="6.28">1</text><text x="557.19" y="187.35" font-size="6.45">1</text><text x="571.45" y="189.93" font-size="6.62">1</text><text x="586.38" y="192.64" font-size="6.8">1</text><text x="602.02" y="195.48" font-size="6.99">1</text><text x="618.43" y="198.46" font-size="7.19">1</text><text x="635.66" y="201.59" font-size="7.41">0</text><text x="653.77" y="204.88" font-size="7.64">1</text><text x="556.08" y="196.64" font-size="6.97">1</text><text x="571.32" y="199.64" font-size="7.17">0</text><text x="587.32" y="202.79" font-size="7.39">1</text><text x="604.14" y="206.1" font-size="7.62">0</text><text x="621.85" y="209.59" font-size="7.86">0</text><text x="640.53" y="213.27" font-size="8.12">0</text><text x="571.13" y="210.83" font-size="7.84">0</text><text x="588.37" y="214.54" font-size="8.1">0</text><text x="606.57" y="218.45" font-size="8.37">1</text><text x="625.81" y="222.59" font-size="8.67">0</text><text x="589.56" y="228.3" font-size="8.96">1</text><text x="609.38" y="232.97" font-size="9.3">1</text></g>
<ellipse cx="618.22" cy="120.62" rx="1.84" ry="1.12" fill="#d4ecf6" transform="rotate(2.54 618.1 120.46)"/><ellipse cx="618.1" cy="120.46" rx="1.84" ry="1.12" fill="#23507f" transform="rotate(2.54 618.1 120.46)"/><ellipse cx="618.24" cy="120.7" rx="1.51" ry="0.81" fill="#c2e3f2" transform="rotate(2.54 618.1 120.46)"/><ellipse cx="618.24" cy="120.98" rx="1.33" ry="0.49" fill="#a6d4ea" transform="rotate(2.54 618.1 120.46)"/><ellipse cx="611.8" cy="122.36" rx="1.9" ry="1.16" fill="#d4ecf6" transform="rotate(2.54 611.67 122.19)"/><ellipse cx="611.67" cy="122.19" rx="1.9" ry="1.16" fill="#23507f" transform="rotate(2.54 611.67 122.19)"/><ellipse cx="611.81" cy="122.44" rx="1.56" ry="0.84" fill="#c2e3f2" transform="rotate(2.54 611.67 122.19)"/><ellipse cx="611.81" cy="122.72" rx="1.37" ry="0.51" fill="#a6d4ea" transform="rotate(2.54 611.67 122.19)"/><ellipse cx="619.89" cy="122.93" rx="1.94" ry="1.18" fill="#d4ecf6" transform="rotate(2.68 619.77 122.75)"/><ellipse cx="619.77" cy="122.75" rx="1.94" ry="1.18" fill="#23507f" transform="rotate(2.68 619.77 122.75)"/><ellipse cx="619.91" cy="123.01" rx="1.59" ry="0.85" fill="#c2e3f2" transform="rotate(2.68 619.77 122.75)"/><ellipse cx="619.91" cy="123.3" rx="1.39" ry="0.52" fill="#a6d4ea" transform="rotate(2.68 619.77 122.75)"/><ellipse cx="628.18" cy="123.51" rx="1.97" ry="1.2" fill="#d4ecf6" transform="rotate(2.82 628.05 123.33)"/><ellipse cx="628.05" cy="123.33" rx="1.97" ry="1.2" fill="#23507f" transform="rotate(2.82 628.05 123.33)"/><ellipse cx="628.2" cy="123.6" rx="1.62" ry="0.87" fill="#c2e3f2" transform="rotate(2.82 628.05 123.33)"/><ellipse cx="628.2" cy="123.89" rx="1.42" ry="0.53" fill="#a6d4ea" transform="rotate(2.82 628.05 123.33)"/><ellipse cx="645.37" cy="124.72" rx="2.04" ry="1.25" fill="#d4ecf6" transform="rotate(3.05 645.24 124.53)"/><ellipse cx="645.24" cy="124.53" rx="2.04" ry="1.25" fill="#23507f" transform="rotate(3.05 645.24 124.53)"/><ellipse cx="645.39" cy="124.81" rx="1.68" ry="0.9" fill="#c2e3f2" transform="rotate(3.05 645.24 124.53)"/><ellipse cx="645.39" cy="125.11" rx="1.47" ry="0.55" fill="#a6d4ea" transform="rotate(3.05 645.24 124.53)"/><ellipse cx="613.28" cy="124.78" rx="2" ry="1.22" fill="#d4ecf6" transform="rotate(2.68 613.15 124.6)"/><ellipse cx="613.15" cy="124.6" rx="2" ry="1.22" fill="#23507f" transform="rotate(2.68 613.15 124.6)"/><ellipse cx="613.3" cy="124.87" rx="1.64" ry="0.88" fill="#c2e3f2" transform="rotate(2.68 613.15 124.6)"/><ellipse cx="613.3" cy="125.16" rx="1.44" ry="0.54" fill="#a6d4ea" transform="rotate(2.68 613.15 124.6)"/><ellipse cx="648.18" cy="127.35" rx="2.16" ry="1.32" fill="#d4ecf6" transform="rotate(3.21 648.04 127.15)"/><ellipse cx="648.04" cy="127.15" rx="2.16" ry="1.32" fill="#23507f" transform="rotate(3.21 648.04 127.15)"/><ellipse cx="648.2" cy="127.44" rx="1.77" ry="0.95" fill="#c2e3f2" transform="rotate(3.21 648.04 127.15)"/><ellipse cx="648.2" cy="127.76" rx="1.55" ry="0.58" fill="#a6d4ea" transform="rotate(3.21 648.04 127.15)"/><ellipse cx="606.36" cy="126.72" rx="2.08" ry="1.27" fill="#d4ecf6" transform="rotate(2.67 606.22 126.53)"/><ellipse cx="606.22" cy="126.53" rx="2.08" ry="1.27" fill="#23507f" transform="rotate(2.67 606.22 126.53)"/><ellipse cx="606.38" cy="126.81" rx="1.7" ry="0.91" fill="#c2e3f2" transform="rotate(2.67 606.22 126.53)"/><ellipse cx="606.38" cy="127.12" rx="1.49" ry="0.56" fill="#a6d4ea" transform="rotate(2.67 606.22 126.53)"/><ellipse cx="623.61" cy="128.05" rx="2.16" ry="1.32" fill="#d4ecf6" transform="rotate(3 623.47 127.86)"/><ellipse cx="623.47" cy="127.86" rx="2.16" ry="1.32" fill="#23507f" transform="rotate(3 623.47 127.86)"/><ellipse cx="623.63" cy="128.15" rx="1.77" ry="0.95" fill="#c2e3f2" transform="rotate(3 623.47 127.86)"/><ellipse cx="623.63" cy="128.46" rx="1.55" ry="0.58" fill="#a6d4ea" transform="rotate(3 623.47 127.86)"/><ellipse cx="651.2" cy="130.18" rx="2.29" ry="1.39" fill="#d4ecf6" transform="rotate(3.39 651.06 129.98)"/><ellipse cx="651.06" cy="129.98" rx="2.29" ry="1.39" fill="#23507f" transform="rotate(3.39 651.06 129.98)"/><ellipse cx="651.23" cy="130.29" rx="1.87" ry="1" fill="#c2e3f2" transform="rotate(3.39 651.06 129.98)"/><ellipse cx="651.23" cy="130.62" rx="1.65" ry="0.61" fill="#a6d4ea" transform="rotate(3.39 651.06 129.98)"/><ellipse cx="670.86" cy="131.7" rx="2.38" ry="1.45" fill="#d4ecf6" transform="rotate(3.58 670.7 131.48)"/><ellipse cx="670.7" cy="131.48" rx="2.38" ry="1.45" fill="#23507f" transform="rotate(3.58 670.7 131.48)"/><ellipse cx="670.88" cy="131.81" rx="1.95" ry="1.05" fill="#c2e3f2" transform="rotate(3.58 670.7 131.48)"/><ellipse cx="670.88" cy="132.16" rx="1.71" ry="0.64" fill="#a6d4ea" transform="rotate(3.58 670.7 131.48)"/><ellipse cx="599.1" cy="128.75" rx="2.15" ry="1.31" fill="#d4ecf6" transform="rotate(2.64 598.96 128.56)"/><ellipse cx="598.96" cy="128.56" rx="2.15" ry="1.31" fill="#23507f" transform="rotate(2.64 598.96 128.56)"/><ellipse cx="599.12" cy="128.85" rx="1.76" ry="0.95" fill="#c2e3f2" transform="rotate(2.64 598.96 128.56)"/><ellipse cx="599.12" cy="129.17" rx="1.55" ry="0.58" fill="#a6d4ea" transform="rotate(2.64 598.96 128.56)"/><ellipse cx="635.02" cy="131.67" rx="2.33" ry="1.42" fill="#d4ecf6" transform="rotate(3.34 634.87 131.46)"/><ellipse cx="634.87" cy="131.46" rx="2.33" ry="1.42" fill="#23507f" transform="rotate(3.34 634.87 131.46)"/><ellipse cx="635.04" cy="131.77" rx="1.91" ry="1.02" fill="#c2e3f2" transform="rotate(3.34 634.87 131.46)"/><ellipse cx="635.04" cy="132.11" rx="1.68" ry="0.62" fill="#a6d4ea" transform="rotate(3.34 634.87 131.46)"/><ellipse cx="644.61" cy="132.44" rx="2.38" ry="1.45" fill="#d4ecf6" transform="rotate(3.47 644.46 132.23)"/><ellipse cx="644.46" cy="132.23" rx="2.38" ry="1.45" fill="#23507f" transform="rotate(3.47 644.46 132.23)"/><ellipse cx="644.63" cy="132.55" rx="1.95" ry="1.04" fill="#c2e3f2" transform="rotate(3.47 644.46 132.23)"/><ellipse cx="644.63" cy="132.9" rx="1.71" ry="0.64" fill="#a6d4ea" transform="rotate(3.47 644.46 132.23)"/><ellipse cx="654.47" cy="133.24" rx="2.42" ry="1.48" fill="#d4ecf6" transform="rotate(3.59 654.31 133.02)"/><ellipse cx="654.31" cy="133.02" rx="2.42" ry="1.48" fill="#23507f" transform="rotate(3.59 654.31 133.02)"/><ellipse cx="654.49" cy="133.35" rx="1.99" ry="1.07" fill="#c2e3f2" transform="rotate(3.59 654.31 133.02)"/><ellipse cx="654.49" cy="133.71" rx="1.75" ry="0.65" fill="#a6d4ea" transform="rotate(3.59 654.31 133.02)"/><ellipse cx="591.48" cy="130.89" rx="2.23" ry="1.36" fill="#d4ecf6" transform="rotate(2.58 591.33 130.68)"/><ellipse cx="591.33" cy="130.68" rx="2.23" ry="1.36" fill="#23507f" transform="rotate(2.58 591.33 130.68)"/><ellipse cx="591.5" cy="130.99" rx="1.83" ry="0.98" fill="#c2e3f2" transform="rotate(2.58 591.33 130.68)"/><ellipse cx="591.5" cy="131.32" rx="1.61" ry="0.6" fill="#a6d4ea" transform="rotate(2.58 591.33 130.68)"/><ellipse cx="600.23" cy="131.63" rx="2.28" ry="1.39" fill="#d4ecf6" transform="rotate(2.81 600.08 131.43)"/><ellipse cx="600.08" cy="131.43" rx="2.28" ry="1.39" fill="#23507f" transform="rotate(2.81 600.08 131.43)"/><ellipse cx="600.25" cy="131.74" rx="1.87" ry="1" fill="#c2e3f2" transform="rotate(2.81 600.08 131.43)"/><ellipse cx="600.25" cy="132.07" rx="1.64" ry="0.61" fill="#a6d4ea" transform="rotate(2.81 600.08 131.43)"/><ellipse cx="609.21" cy="132.4" rx="2.32" ry="1.42" fill="#d4ecf6" transform="rotate(3.02 609.06 132.19)"/><ellipse cx="609.06" cy="132.19" rx="2.32" ry="1.42" fill="#23507f" transform="rotate(3.02 609.06 132.19)"/><ellipse cx="609.23" cy="132.5" rx="1.9" ry="1.02" fill="#c2e3f2" transform="rotate(3.02 609.06 132.19)"/><ellipse cx="609.23" cy="132.85" rx="1.67" ry="0.62" fill="#a6d4ea" transform="rotate(3.02 609.06 132.19)"/><ellipse cx="618.44" cy="133.19" rx="2.37" ry="1.45" fill="#d4ecf6" transform="rotate(3.21 618.29 132.97)"/><ellipse cx="618.29" cy="132.97" rx="2.37" ry="1.45" fill="#23507f" transform="rotate(3.21 618.29 132.97)"/><ellipse cx="618.46" cy="133.29" rx="1.94" ry="1.04" fill="#c2e3f2" transform="rotate(3.21 618.29 132.97)"/><ellipse cx="618.46" cy="133.64" rx="1.71" ry="0.64" fill="#a6d4ea" transform="rotate(3.21 618.29 132.97)"/><ellipse cx="627.92" cy="134" rx="2.42" ry="1.48" fill="#d4ecf6" transform="rotate(3.39 627.77 133.78)"/><ellipse cx="627.77" cy="133.78" rx="2.42" ry="1.48" fill="#23507f" transform="rotate(3.39 627.77 133.78)"/><ellipse cx="627.94" cy="134.1" rx="1.98" ry="1.06" fill="#c2e3f2" transform="rotate(3.39 627.77 133.78)"/><ellipse cx="627.94" cy="134.46" rx="1.74" ry="0.65" fill="#a6d4ea" transform="rotate(3.39 627.77 133.78)"/><ellipse cx="679.55" cy="138.4" rx="2.69" ry="1.64" fill="#d4ecf6" transform="rotate(3.98 679.38 138.16)"/><ellipse cx="679.38" cy="138.16" rx="2.69" ry="1.64" fill="#23507f" transform="rotate(3.98 679.38 138.16)"/><ellipse cx="679.58" cy="138.52" rx="2.21" ry="1.18" fill="#c2e3f2" transform="rotate(3.98 679.38 138.16)"/><ellipse cx="679.58" cy="138.92" rx="1.94" ry="0.72" fill="#a6d4ea" transform="rotate(3.98 679.38 138.16)"/><ellipse cx="702.41" cy="140.35" rx="2.82" ry="1.72" fill="#d4ecf6" transform="rotate(4.11 702.23 140.1)"/><ellipse cx="702.23" cy="140.1" rx="2.82" ry="1.72" fill="#23507f" transform="rotate(4.11 702.23 140.1)"/><ellipse cx="702.44" cy="140.48" rx="2.31" ry="1.24" fill="#c2e3f2" transform="rotate(4.11 702.23 140.1)"/><ellipse cx="702.44" cy="140.89" rx="2.03" ry="0.76" fill="#a6d4ea" transform="rotate(4.11 702.23 140.1)"/><ellipse cx="583.47" cy="133.13" rx="2.32" ry="1.41" fill="#d4ecf6" transform="rotate(2.49 583.32 132.92)"/><ellipse cx="583.32" cy="132.92" rx="2.32" ry="1.41" fill="#23507f" transform="rotate(2.49 583.32 132.92)"/><ellipse cx="583.49" cy="133.24" rx="1.9" ry="1.02" fill="#c2e3f2" transform="rotate(2.49 583.32 132.92)"/><ellipse cx="583.49" cy="133.58" rx="1.67" ry="0.62" fill="#a6d4ea" transform="rotate(2.49 583.32 132.92)"/><ellipse cx="601.45" cy="134.74" rx="2.41" ry="1.47" fill="#d4ecf6" transform="rotate(3 601.29 134.53)"/><ellipse cx="601.29" cy="134.53" rx="2.41" ry="1.47" fill="#23507f" transform="rotate(3 601.29 134.53)"/><ellipse cx="601.47" cy="134.85" rx="1.98" ry="1.06" fill="#c2e3f2" transform="rotate(3 601.29 134.53)"/><ellipse cx="601.47" cy="135.21" rx="1.74" ry="0.65" fill="#a6d4ea" transform="rotate(3 601.29 134.53)"/><ellipse cx="610.81" cy="135.59" rx="2.47" ry="1.5" fill="#d4ecf6" transform="rotate(3.22 610.65 135.36)"/><ellipse cx="610.65" cy="135.36" rx="2.47" ry="1.5" fill="#23507f" transform="rotate(3.22 610.65 135.36)"/><ellipse cx="610.83" cy="135.7" rx="2.02" ry="1.08" fill="#c2e3f2" transform="rotate(3.22 610.65 135.36)"/><ellipse cx="610.83" cy="136.06" rx="1.78" ry="0.66" fill="#a6d4ea" transform="rotate(3.22 610.65 135.36)"/><ellipse cx="620.44" cy="136.45" rx="2.52" ry="1.54" fill="#d4ecf6" transform="rotate(3.42 620.28 136.22)"/><ellipse cx="620.28" cy="136.22" rx="2.52" ry="1.54" fill="#23507f" transform="rotate(3.42 620.28 136.22)"/><ellipse cx="620.46" cy="136.56" rx="2.06" ry="1.11" fill="#c2e3f2" transform="rotate(3.42 620.28 136.22)"/><ellipse cx="620.46" cy="136.93" rx="1.81" ry="0.68" fill="#a6d4ea" transform="rotate(3.42 620.28 136.22)"/><ellipse cx="651.04" cy="139.2" rx="2.69" ry="1.64" fill="#d4ecf6" transform="rotate(3.91 650.87 138.96)"/><ellipse cx="650.87" cy="138.96" rx="2.69" ry="1.64" fill="#23507f" transform="rotate(3.91 650.87 138.96)"/><ellipse cx="651.07" cy="139.32" rx="2.2" ry="1.18" fill="#c2e3f2" transform="rotate(3.91 650.87 138.96)"/><ellipse cx="651.07" cy="139.71" rx="1.94" ry="0.72" fill="#a6d4ea" transform="rotate(3.91 650.87 138.96)"/><ellipse cx="673" cy="141.17" rx="2.81" ry="1.72" fill="#d4ecf6" transform="rotate(4.12 672.82 140.92)"/><ellipse cx="672.82" cy="140.92" rx="2.81" ry="1.72" fill="#23507f" transform="rotate(4.12 672.82 140.92)"/><ellipse cx="673.03" cy="141.3" rx="2.31" ry="1.24" fill="#c2e3f2" transform="rotate(4.12 672.82 140.92)"/><ellipse cx="673.03" cy="141.71" rx="2.02" ry="0.75" fill="#a6d4ea" transform="rotate(4.12 672.82 140.92)"/><ellipse cx="708.57" cy="144.36" rx="3.02" ry="1.84" fill="#d4ecf6" transform="rotate(4.32 708.37 144.09)"/><ellipse cx="708.37" cy="144.09" rx="3.02" ry="1.84" fill="#23507f" transform="rotate(4.32 708.37 144.09)"/><ellipse cx="708.59" cy="144.5" rx="2.47" ry="1.33" fill="#c2e3f2" transform="rotate(4.32 708.37 144.09)"/><ellipse cx="708.59" cy="144.94" rx="2.17" ry="0.81" fill="#a6d4ea" transform="rotate(4.32 708.37 144.09)"/><ellipse cx="575.04" cy="135.49" rx="2.41" ry="1.47" fill="#d4ecf6" transform="rotate(2.35 574.89 135.27)"/><ellipse cx="574.89" cy="135.27" rx="2.41" ry="1.47" fill="#23507f" transform="rotate(2.35 574.89 135.27)"/><ellipse cx="575.06" cy="135.6" rx="1.98" ry="1.06" fill="#c2e3f2" transform="rotate(2.35 574.89 135.27)"/><ellipse cx="575.06" cy="135.95" rx="1.74" ry="0.65" fill="#a6d4ea" transform="rotate(2.35 574.89 135.27)"/><ellipse cx="622.62" cy="139.99" rx="2.68" ry="1.64" fill="#d4ecf6" transform="rotate(3.66 622.44 139.75)"/><ellipse cx="622.44" cy="139.75" rx="2.68" ry="1.64" fill="#23507f" transform="rotate(3.66 622.44 139.75)"/><ellipse cx="622.64" cy="140.12" rx="2.2" ry="1.18" fill="#c2e3f2" transform="rotate(3.66 622.44 139.75)"/><ellipse cx="622.64" cy="140.51" rx="1.93" ry="0.72" fill="#a6d4ea" transform="rotate(3.66 622.44 139.75)"/><ellipse cx="632.99" cy="140.98" rx="2.74" ry="1.67" fill="#d4ecf6" transform="rotate(3.85 632.81 140.73)"/><ellipse cx="632.81" cy="140.73" rx="2.74" ry="1.67" fill="#23507f" transform="rotate(3.85 632.81 140.73)"/><ellipse cx="633.01" cy="141.1" rx="2.25" ry="1.2" fill="#c2e3f2" transform="rotate(3.85 632.81 140.73)"/><ellipse cx="633.01" cy="141.5" rx="1.97" ry="0.74" fill="#a6d4ea" transform="rotate(3.85 632.81 140.73)"/><ellipse cx="643.67" cy="141.99" rx="2.81" ry="1.71" fill="#d4ecf6" transform="rotate(4.01 643.49 141.73)"/><ellipse cx="643.49" cy="141.73" rx="2.81" ry="1.71" fill="#23507f" transform="rotate(4.01 643.49 141.73)"/><ellipse cx="643.7" cy="142.11" rx="2.3" ry="1.23" fill="#c2e3f2" transform="rotate(4.01 643.49 141.73)"/><ellipse cx="643.7" cy="142.53" rx="2.02" ry="0.75" fill="#a6d4ea" transform="rotate(4.01 643.49 141.73)"/><ellipse cx="654.69" cy="143.03" rx="2.87" ry="1.75" fill="#d4ecf6" transform="rotate(4.15 654.51 142.77)"/><ellipse cx="654.51" cy="142.77" rx="2.87" ry="1.75" fill="#23507f" transform="rotate(4.15 654.51 142.77)"/><ellipse cx="654.72" cy="143.16" rx="2.35" ry="1.26" fill="#c2e3f2" transform="rotate(4.15 654.51 142.77)"/><ellipse cx="654.72" cy="143.58" rx="2.07" ry="0.77" fill="#a6d4ea" transform="rotate(4.15 654.51 142.77)"/><ellipse cx="677.78" cy="145.22" rx="3.01" ry="1.84" fill="#d4ecf6" transform="rotate(4.37 677.59 144.94)"/><ellipse cx="677.59" cy="144.94" rx="3.01" ry="1.84" fill="#23507f" transform="rotate(4.37 677.59 144.94)"/><ellipse cx="677.81" cy="145.35" rx="2.47" ry="1.32" fill="#c2e3f2" transform="rotate(4.37 677.59 144.94)"/><ellipse cx="677.81" cy="145.79" rx="2.17" ry="0.81" fill="#a6d4ea" transform="rotate(4.37 677.59 144.94)"/><ellipse cx="557.31" cy="137.1" rx="2.46" ry="1.5" fill="#d4ecf6" transform="rotate(1.8 557.16 136.87)"/><ellipse cx="557.16" cy="136.87" rx="2.46" ry="1.5" fill="#23507f" transform="rotate(1.8 557.16 136.87)"/><ellipse cx="557.34" cy="137.21" rx="2.01" ry="1.08" fill="#c2e3f2" transform="rotate(1.8 557.16 136.87)"/><ellipse cx="557.34" cy="137.57" rx="1.77" ry="0.66" fill="#a6d4ea" transform="rotate(1.8 557.16 136.87)"/><ellipse cx="575.26" cy="138.89" rx="2.56" ry="1.56" fill="#d4ecf6" transform="rotate(2.52 575.1 138.66)"/><ellipse cx="575.1" cy="138.66" rx="2.56" ry="1.56" fill="#23507f" transform="rotate(2.52 575.1 138.66)"/><ellipse cx="575.29" cy="139.01" rx="2.1" ry="1.13" fill="#c2e3f2" transform="rotate(2.52 575.1 138.66)"/><ellipse cx="575.29" cy="139.38" rx="1.84" ry="0.69" fill="#a6d4ea" transform="rotate(2.52 575.1 138.66)"/><ellipse cx="614.44" cy="142.8" rx="2.8" ry="1.71" fill="#d4ecf6" transform="rotate(3.69 614.25 142.55)"/><ellipse cx="614.25" cy="142.55" rx="2.8" ry="1.71" fill="#23507f" transform="rotate(3.69 614.25 142.55)"/><ellipse cx="614.46" cy="142.93" rx="2.3" ry="1.23" fill="#c2e3f2" transform="rotate(3.69 614.25 142.55)"/><ellipse cx="614.46" cy="143.34" rx="2.02" ry="0.75" fill="#a6d4ea" transform="rotate(3.69 614.25 142.55)"/><ellipse cx="658.68" cy="147.22" rx="3.08" ry="1.88" fill="#d4ecf6" transform="rotate(4.42 658.48 146.95)"/><ellipse cx="658.48" cy="146.95" rx="3.08" ry="1.88" fill="#23507f" transform="rotate(4.42 658.48 146.95)"/><ellipse cx="658.71" cy="147.36" rx="2.52" ry="1.35" fill="#c2e3f2" transform="rotate(4.42 658.48 146.95)"/><ellipse cx="658.71" cy="147.81" rx="2.21" ry="0.83" fill="#a6d4ea" transform="rotate(4.42 658.48 146.95)"/><ellipse cx="670.65" cy="148.42" rx="3.15" ry="1.92" fill="#d4ecf6" transform="rotate(4.54 670.45 148.13)"/><ellipse cx="670.45" cy="148.13" rx="3.15" ry="1.92" fill="#23507f" transform="rotate(4.54 670.45 148.13)"/><ellipse cx="670.68" cy="148.56" rx="2.58" ry="1.38" fill="#c2e3f2" transform="rotate(4.54 670.45 148.13)"/><ellipse cx="670.68" cy="149.02" rx="2.27" ry="0.85" fill="#a6d4ea" transform="rotate(4.54 670.45 148.13)"/><ellipse cx="683.03" cy="149.66" rx="3.23" ry="1.97" fill="#d4ecf6" transform="rotate(4.63 682.82 149.36)"/><ellipse cx="682.82" cy="149.36" rx="3.23" ry="1.97" fill="#23507f" transform="rotate(4.63 682.82 149.36)"/><ellipse cx="683.06" cy="149.8" rx="2.65" ry="1.42" fill="#c2e3f2" transform="rotate(4.63 682.82 149.36)"/><ellipse cx="683.06" cy="150.28" rx="2.33" ry="0.87" fill="#a6d4ea" transform="rotate(4.63 682.82 149.36)"/><ellipse cx="709.06" cy="152.26" rx="3.4" ry="2.07" fill="#d4ecf6" transform="rotate(4.76 708.84 151.95)"/><ellipse cx="708.84" cy="151.95" rx="3.4" ry="2.07" fill="#23507f" transform="rotate(4.76 708.84 151.95)"/><ellipse cx="709.09" cy="152.41" rx="2.79" ry="1.49" fill="#c2e3f2" transform="rotate(4.76 708.84 151.95)"/><ellipse cx="709.09" cy="152.91" rx="2.45" ry="0.91" fill="#a6d4ea" transform="rotate(4.76 708.84 151.95)"/><ellipse cx="547.84" cy="139.66" rx="2.56" ry="1.56" fill="#d4ecf6" transform="rotate(1.5 547.67 139.43)"/><ellipse cx="547.67" cy="139.43" rx="2.56" ry="1.56" fill="#23507f" transform="rotate(1.5 547.67 139.43)"/><ellipse cx="547.86" cy="139.78" rx="2.1" ry="1.12" fill="#c2e3f2" transform="rotate(1.5 547.67 139.43)"/><ellipse cx="547.86" cy="140.15" rx="1.84" ry="0.69" fill="#a6d4ea" transform="rotate(1.5 547.67 139.43)"/><ellipse cx="639.02" cy="149.29" rx="3.14" ry="1.92" fill="#d4ecf6" transform="rotate(4.4 638.81 149.01)"/><ellipse cx="638.81" cy="149.01" rx="3.14" ry="1.92" fill="#23507f" transform="rotate(4.4 638.81 149.01)"/><ellipse cx="639.05" cy="149.43" rx="2.58" ry="1.38" fill="#c2e3f2" transform="rotate(4.4 638.81 149.01)"/><ellipse cx="639.05" cy="149.89" rx="2.26" ry="0.84" fill="#a6d4ea" transform="rotate(4.4 638.81 149.01)"/><ellipse cx="663.07" cy="151.83" rx="3.31" ry="2.02" fill="#d4ecf6" transform="rotate(4.72 662.85 151.53)"/><ellipse cx="662.85" cy="151.53" rx="3.31" ry="2.02" fill="#23507f" transform="rotate(4.72 662.85 151.53)"/><ellipse cx="663.1" cy="151.98" rx="2.71" ry="1.45" fill="#c2e3f2" transform="rotate(4.72 662.85 151.53)"/><ellipse cx="663.1" cy="152.46" rx="2.38" ry="0.89" fill="#a6d4ea" transform="rotate(4.72 662.85 151.53)"/><ellipse cx="702.37" cy="155.98" rx="3.57" ry="2.18" fill="#d4ecf6" transform="rotate(4.98 702.14 155.66)"/><ellipse cx="702.14" cy="155.66" rx="3.57" ry="2.18" fill="#23507f" transform="rotate(4.98 702.14 155.66)"/><ellipse cx="702.4" cy="156.14" rx="2.93" ry="1.57" fill="#c2e3f2" transform="rotate(4.98 702.14 155.66)"/><ellipse cx="702.4" cy="156.67" rx="2.57" ry="0.96" fill="#a6d4ea" transform="rotate(4.98 702.14 155.66)"/><ellipse cx="716.43" cy="157.47" rx="3.67" ry="2.24" fill="#d4ecf6" transform="rotate(5.03 716.19 157.13)"/><ellipse cx="716.19" cy="157.13" rx="3.67" ry="2.24" fill="#23507f" transform="rotate(5.03 716.19 157.13)"/><ellipse cx="716.46" cy="157.63" rx="3.01" ry="1.61" fill="#c2e3f2" transform="rotate(5.03 716.19 157.13)"/><ellipse cx="716.46" cy="158.17" rx="2.64" ry="0.99" fill="#a6d4ea" transform="rotate(5.03 716.19 157.13)"/><ellipse cx="537.83" cy="142.37" rx="2.66" ry="1.63" fill="#d4ecf6" transform="rotate(1.11 537.66 142.13)"/><ellipse cx="537.66" cy="142.13" rx="2.66" ry="1.63" fill="#23507f" transform="rotate(1.11 537.66 142.13)"/><ellipse cx="537.85" cy="142.49" rx="2.18" ry="1.17" fill="#c2e3f2" transform="rotate(1.11 537.66 142.13)"/><ellipse cx="537.85" cy="142.88" rx="1.92" ry="0.72" fill="#a6d4ea" transform="rotate(1.11 537.66 142.13)"/><ellipse cx="565.84" cy="145.5" rx="2.85" ry="1.74" fill="#d4ecf6" transform="rotate(2.49 565.66 145.24)"/><ellipse cx="565.66" cy="145.24" rx="2.85" ry="1.74" fill="#23507f" transform="rotate(2.49 565.66 145.24)"/><ellipse cx="565.87" cy="145.63" rx="2.34" ry="1.25" fill="#c2e3f2" transform="rotate(2.49 565.66 145.24)"/><ellipse cx="565.87" cy="146.05" rx="2.05" ry="0.77" fill="#a6d4ea" transform="rotate(2.49 565.66 145.24)"/><ellipse cx="575.77" cy="146.61" rx="2.92" ry="1.78" fill="#d4ecf6" transform="rotate(2.92 575.58 146.35)"/><ellipse cx="575.58" cy="146.35" rx="2.92" ry="1.78" fill="#23507f" transform="rotate(2.92 575.58 146.35)"/><ellipse cx="575.79" cy="146.74" rx="2.39" ry="1.28" fill="#c2e3f2" transform="rotate(2.92 575.58 146.35)"/><ellipse cx="575.79" cy="147.17" rx="2.1" ry="0.78" fill="#a6d4ea" transform="rotate(2.92 575.58 146.35)"/><ellipse cx="607.48" cy="150.16" rx="3.14" ry="1.91" fill="#d4ecf6" transform="rotate(3.99 607.28 149.87)"/><ellipse cx="607.28" cy="149.87" rx="3.14" ry="1.91" fill="#23507f" transform="rotate(3.99 607.28 149.87)"/><ellipse cx="607.51" cy="150.3" rx="2.57" ry="1.38" fill="#c2e3f2" transform="rotate(3.99 607.28 149.87)"/><ellipse cx="607.51" cy="150.76" rx="2.26" ry="0.84" fill="#a6d4ea" transform="rotate(3.99 607.28 149.87)"/><ellipse cx="618.76" cy="151.42" rx="3.21" ry="1.96" fill="#d4ecf6" transform="rotate(4.28 618.55 151.13)"/><ellipse cx="618.55" cy="151.13" rx="3.21" ry="1.96" fill="#23507f" transform="rotate(4.28 618.55 151.13)"/><ellipse cx="618.79" cy="151.56" rx="2.64" ry="1.41" fill="#c2e3f2" transform="rotate(4.28 618.55 151.13)"/><ellipse cx="618.79" cy="152.04" rx="2.31" ry="0.86" fill="#a6d4ea" transform="rotate(4.28 618.55 151.13)"/><ellipse cx="681.31" cy="158.41" rx="3.66" ry="2.24" fill="#d4ecf6" transform="rotate(5.15 681.07 158.08)"/><ellipse cx="681.07" cy="158.08" rx="3.66" ry="2.24" fill="#23507f" transform="rotate(5.15 681.07 158.08)"/><ellipse cx="681.34" cy="158.58" rx="3" ry="1.61" fill="#c2e3f2" transform="rotate(5.15 681.07 158.08)"/><ellipse cx="681.34" cy="159.12" rx="2.64" ry="0.98" fill="#a6d4ea" transform="rotate(5.15 681.07 158.08)"/><ellipse cx="695.21" cy="159.97" rx="3.77" ry="2.3" fill="#d4ecf6" transform="rotate(5.23 694.97 159.63)"/><ellipse cx="694.97" cy="159.63" rx="3.77" ry="2.3" fill="#23507f" transform="rotate(5.23 694.97 159.63)"/><ellipse cx="695.25" cy="160.14" rx="3.09" ry="1.65" fill="#c2e3f2" transform="rotate(5.23 694.97 159.63)"/><ellipse cx="695.25" cy="160.69" rx="2.71" ry="1.01" fill="#a6d4ea" transform="rotate(5.23 694.97 159.63)"/><ellipse cx="709.64" cy="161.58" rx="3.87" ry="2.36" fill="#d4ecf6" transform="rotate(5.28 709.39 161.23)"/><ellipse cx="709.39" cy="161.23" rx="3.87" ry="2.36" fill="#23507f" transform="rotate(5.28 709.39 161.23)"/><ellipse cx="709.67" cy="161.76" rx="3.18" ry="1.7" fill="#c2e3f2" transform="rotate(5.28 709.39 161.23)"/><ellipse cx="709.67" cy="162.33" rx="2.79" ry="1.04" fill="#a6d4ea" transform="rotate(5.28 709.39 161.23)"/><ellipse cx="555.6" cy="148.6" rx="2.98" ry="1.82" fill="#d4ecf6" transform="rotate(2.19 555.41 148.33)"/><ellipse cx="555.41" cy="148.33" rx="2.98" ry="1.82" fill="#23507f" transform="rotate(2.19 555.41 148.33)"/><ellipse cx="555.63" cy="148.73" rx="2.44" ry="1.31" fill="#c2e3f2" transform="rotate(2.19 555.41 148.33)"/><ellipse cx="555.63" cy="149.17" rx="2.15" ry="0.8" fill="#a6d4ea" transform="rotate(2.19 555.41 148.33)"/><ellipse cx="586.79" cy="152.29" rx="3.21" ry="1.96" fill="#d4ecf6" transform="rotate(3.59 586.58 152)"/><ellipse cx="586.58" cy="152" rx="3.21" ry="1.96" fill="#23507f" transform="rotate(3.59 586.58 152)"/><ellipse cx="586.82" cy="152.44" rx="2.63" ry="1.41" fill="#c2e3f2" transform="rotate(3.59 586.58 152)"/><ellipse cx="586.82" cy="152.91" rx="2.31" ry="0.86" fill="#a6d4ea" transform="rotate(3.59 586.58 152)"/><ellipse cx="609.37" cy="154.97" rx="3.37" ry="2.06" fill="#d4ecf6" transform="rotate(4.32 609.15 154.67)"/><ellipse cx="609.15" cy="154.67" rx="3.37" ry="2.06" fill="#23507f" transform="rotate(4.32 609.15 154.67)"/><ellipse cx="609.4" cy="155.13" rx="2.77" ry="1.48" fill="#c2e3f2" transform="rotate(4.32 609.15 154.67)"/><ellipse cx="609.4" cy="155.62" rx="2.43" ry="0.91" fill="#a6d4ea" transform="rotate(4.32 609.15 154.67)"/><ellipse cx="621.26" cy="156.38" rx="3.46" ry="2.11" fill="#d4ecf6" transform="rotate(4.62 621.03 156.07)"/><ellipse cx="621.03" cy="156.07" rx="3.46" ry="2.11" fill="#23507f" transform="rotate(4.62 621.03 156.07)"/><ellipse cx="621.29" cy="156.54" rx="2.84" ry="1.52" fill="#c2e3f2" transform="rotate(4.62 621.03 156.07)"/><ellipse cx="621.29" cy="157.05" rx="2.49" ry="0.93" fill="#a6d4ea" transform="rotate(4.62 621.03 156.07)"/><ellipse cx="659.55" cy="160.93" rx="3.76" ry="2.29" fill="#d4ecf6" transform="rotate(5.26 659.31 160.59)"/><ellipse cx="659.31" cy="160.59" rx="3.76" ry="2.29" fill="#23507f" transform="rotate(5.26 659.31 160.59)"/><ellipse cx="659.59" cy="161.1" rx="3.08" ry="1.65" fill="#c2e3f2" transform="rotate(5.26 659.31 160.59)"/><ellipse cx="659.59" cy="161.65" rx="2.7" ry="1.01" fill="#a6d4ea" transform="rotate(5.26 659.31 160.59)"/><ellipse cx="717.75" cy="167.83" rx="4.21" ry="2.57" fill="#d4ecf6" transform="rotate(5.6 717.47 167.45)"/><ellipse cx="717.47" cy="167.45" rx="4.21" ry="2.57" fill="#23507f" transform="rotate(5.6 717.47 167.45)"/><ellipse cx="717.79" cy="168.02" rx="3.46" ry="1.85" fill="#c2e3f2" transform="rotate(5.6 717.47 167.45)"/><ellipse cx="717.79" cy="168.64" rx="3.03" ry="1.13" fill="#a6d4ea" transform="rotate(5.6 717.47 167.45)"/><ellipse cx="525.3" cy="149.43" rx="2.97" ry="1.81" fill="#d4ecf6" transform="rotate(0.58 525.1 149.16)"/><ellipse cx="525.1" cy="149.16" rx="2.97" ry="1.81" fill="#23507f" transform="rotate(0.58 525.1 149.16)"/><ellipse cx="525.32" cy="149.57" rx="2.44" ry="1.31" fill="#c2e3f2" transform="rotate(0.58 525.1 149.16)"/><ellipse cx="525.32" cy="150" rx="2.14" ry="0.8" fill="#a6d4ea" transform="rotate(0.58 525.1 149.16)"/><ellipse cx="534.85" cy="150.64" rx="3.05" ry="1.86" fill="#d4ecf6" transform="rotate(1.18 534.66 150.36)"/><ellipse cx="534.66" cy="150.36" rx="3.05" ry="1.86" fill="#23507f" transform="rotate(1.18 534.66 150.36)"/><ellipse cx="534.88" cy="150.78" rx="2.5" ry="1.34" fill="#c2e3f2" transform="rotate(1.18 534.66 150.36)"/><ellipse cx="534.88" cy="151.22" rx="2.19" ry="0.82" fill="#a6d4ea" transform="rotate(1.18 534.66 150.36)"/><ellipse cx="554.92" cy="153.17" rx="3.2" ry="1.95" fill="#d4ecf6" transform="rotate(2.36 554.71 152.88)"/><ellipse cx="554.71" cy="152.88" rx="3.2" ry="1.95" fill="#23507f" transform="rotate(2.36 554.71 152.88)"/><ellipse cx="554.95" cy="153.31" rx="2.62" ry="1.41" fill="#c2e3f2" transform="rotate(2.36 554.71 152.88)"/><ellipse cx="554.95" cy="153.78" rx="2.3" ry="0.86" fill="#a6d4ea" transform="rotate(2.36 554.71 152.88)"/><ellipse cx="576.37" cy="155.87" rx="3.37" ry="2.05" fill="#d4ecf6" transform="rotate(3.44 576.15 155.57)"/><ellipse cx="576.15" cy="155.57" rx="3.37" ry="2.05" fill="#23507f" transform="rotate(3.44 576.15 155.57)"/><ellipse cx="576.4" cy="156.02" rx="2.76" ry="1.48" fill="#c2e3f2" transform="rotate(3.44 576.15 155.57)"/><ellipse cx="576.4" cy="156.52" rx="2.42" ry="0.9" fill="#a6d4ea" transform="rotate(3.44 576.15 155.57)"/><ellipse cx="587.66" cy="157.3" rx="3.45" ry="2.11" fill="#d4ecf6" transform="rotate(3.91 587.43 156.98)"/><ellipse cx="587.43" cy="156.98" rx="3.45" ry="2.11" fill="#23507f" transform="rotate(3.91 587.43 156.98)"/><ellipse cx="587.69" cy="157.45" rx="2.83" ry="1.52" fill="#c2e3f2" transform="rotate(3.91 587.43 156.98)"/><ellipse cx="587.69" cy="157.96" rx="2.49" ry="0.93" fill="#a6d4ea" transform="rotate(3.91 587.43 156.98)"/><ellipse cx="599.35" cy="158.77" rx="3.55" ry="2.16" fill="#d4ecf6" transform="rotate(4.34 599.12 158.45)"/><ellipse cx="599.12" cy="158.45" rx="3.55" ry="2.16" fill="#23507f" transform="rotate(4.34 599.12 158.45)"/><ellipse cx="599.38" cy="158.93" rx="2.91" ry="1.56" fill="#c2e3f2" transform="rotate(4.34 599.12 158.45)"/><ellipse cx="599.38" cy="159.45" rx="2.55" ry="0.95" fill="#a6d4ea" transform="rotate(4.34 599.12 158.45)"/><ellipse cx="611.46" cy="160.3" rx="3.64" ry="2.22" fill="#d4ecf6" transform="rotate(4.7 611.22 159.97)"/><ellipse cx="611.22" cy="159.97" rx="3.64" ry="2.22" fill="#23507f" transform="rotate(4.7 611.22 159.97)"/><ellipse cx="611.49" cy="160.46" rx="2.99" ry="1.6" fill="#c2e3f2" transform="rotate(4.7 611.22 159.97)"/><ellipse cx="611.49" cy="161" rx="2.62" ry="0.98" fill="#a6d4ea" transform="rotate(4.7 611.22 159.97)"/><ellipse cx="664.65" cy="167" rx="4.08" ry="2.49" fill="#d4ecf6" transform="rotate(5.65 664.38 166.64)"/><ellipse cx="664.38" cy="166.64" rx="4.08" ry="2.49" fill="#23507f" transform="rotate(5.65 664.38 166.64)"/><ellipse cx="664.68" cy="167.19" rx="3.34" ry="1.79" fill="#c2e3f2" transform="rotate(5.65 664.38 166.64)"/><ellipse cx="664.68" cy="167.79" rx="2.94" ry="1.1" fill="#a6d4ea" transform="rotate(5.65 664.38 166.64)"/><ellipse cx="679.27" cy="168.85" rx="4.2" ry="2.56" fill="#d4ecf6" transform="rotate(5.78 679 168.47)"/><ellipse cx="679" cy="168.47" rx="4.2" ry="2.56" fill="#23507f" transform="rotate(5.78 679 168.47)"/><ellipse cx="679.31" cy="169.04" rx="3.45" ry="1.85" fill="#c2e3f2" transform="rotate(5.78 679 168.47)"/><ellipse cx="679.31" cy="169.66" rx="3.03" ry="1.13" fill="#a6d4ea" transform="rotate(5.78 679 168.47)"/><ellipse cx="533.15" cy="155.38" rx="3.27" ry="2" fill="#d4ecf6" transform="rotate(1.21 532.93 155.09)"/><ellipse cx="532.93" cy="155.09" rx="3.27" ry="2" fill="#23507f" transform="rotate(1.21 532.93 155.09)"/><ellipse cx="533.18" cy="155.53" rx="2.68" ry="1.44" fill="#c2e3f2" transform="rotate(1.21 532.93 155.09)"/><ellipse cx="533.18" cy="156.01" rx="2.36" ry="0.88" fill="#a6d4ea" transform="rotate(1.21 532.93 155.09)"/><ellipse cx="543.48" cy="156.77" rx="3.36" ry="2.05" fill="#d4ecf6" transform="rotate(1.89 543.26 156.47)"/><ellipse cx="543.26" cy="156.47" rx="3.36" ry="2.05" fill="#23507f" transform="rotate(1.89 543.26 156.47)"/><ellipse cx="543.51" cy="156.92" rx="2.75" ry="1.47" fill="#c2e3f2" transform="rotate(1.89 543.26 156.47)"/><ellipse cx="543.51" cy="157.41" rx="2.42" ry="0.9" fill="#a6d4ea" transform="rotate(1.89 543.26 156.47)"/><ellipse cx="554.17" cy="158.21" rx="3.45" ry="2.1" fill="#d4ecf6" transform="rotate(2.55 553.95 157.89)"/><ellipse cx="553.95" cy="157.89" rx="3.45" ry="2.1" fill="#23507f" transform="rotate(2.55 553.95 157.89)"/><ellipse cx="554.2" cy="158.36" rx="2.82" ry="1.51" fill="#c2e3f2" transform="rotate(2.55 553.95 157.89)"/><ellipse cx="554.2" cy="158.87" rx="2.48" ry="0.92" fill="#a6d4ea" transform="rotate(2.55 553.95 157.89)"/><ellipse cx="565.25" cy="159.69" rx="3.54" ry="2.16" fill="#d4ecf6" transform="rotate(3.18 565.02 159.37)"/><ellipse cx="565.02" cy="159.37" rx="3.54" ry="2.16" fill="#23507f" transform="rotate(3.18 565.02 159.37)"/><ellipse cx="565.28" cy="159.85" rx="2.9" ry="1.55" fill="#c2e3f2" transform="rotate(3.18 565.02 159.37)"/><ellipse cx="565.28" cy="160.37" rx="2.55" ry="0.95" fill="#a6d4ea" transform="rotate(3.18 565.02 159.37)"/><ellipse cx="655.35" cy="171.8" rx="4.32" ry="2.63" fill="#d4ecf6" transform="rotate(5.93 655.07 171.41)"/><ellipse cx="655.07" cy="171.41" rx="4.32" ry="2.63" fill="#23507f" transform="rotate(5.93 655.07 171.41)"/><ellipse cx="655.39" cy="171.99" rx="3.54" ry="1.9" fill="#c2e3f2" transform="rotate(5.93 655.07 171.41)"/><ellipse cx="655.39" cy="172.63" rx="3.11" ry="1.16" fill="#a6d4ea" transform="rotate(5.93 655.07 171.41)"/><ellipse cx="531.27" cy="160.61" rx="3.53" ry="2.15" fill="#d4ecf6" transform="rotate(1.23 531.04 160.29)"/><ellipse cx="531.04" cy="160.29" rx="3.53" ry="2.15" fill="#23507f" transform="rotate(1.23 531.04 160.29)"/><ellipse cx="531.3" cy="160.77" rx="2.89" ry="1.55" fill="#c2e3f2" transform="rotate(1.23 531.04 160.29)"/><ellipse cx="531.3" cy="161.29" rx="2.54" ry="0.95" fill="#a6d4ea" transform="rotate(1.23 531.04 160.29)"/><ellipse cx="553.34" cy="163.78" rx="3.72" ry="2.27" fill="#d4ecf6" transform="rotate(2.78 553.1 163.44)"/><ellipse cx="553.1" cy="163.44" rx="3.72" ry="2.27" fill="#23507f" transform="rotate(2.78 553.1 163.44)"/><ellipse cx="553.38" cy="163.95" rx="3.05" ry="1.64" fill="#c2e3f2" transform="rotate(2.78 553.1 163.44)"/><ellipse cx="553.38" cy="164.5" rx="2.68" ry="1" fill="#a6d4ea" transform="rotate(2.78 553.1 163.44)"/><ellipse cx="565" cy="165.45" rx="3.83" ry="2.34" fill="#d4ecf6" transform="rotate(3.49 564.76 165.11)"/><ellipse cx="564.76" cy="165.11" rx="3.83" ry="2.34" fill="#23507f" transform="rotate(3.49 564.76 165.11)"/><ellipse cx="565.04" cy="165.63" rx="3.14" ry="1.68" fill="#c2e3f2" transform="rotate(3.49 564.76 165.11)"/><ellipse cx="565.04" cy="166.19" rx="2.76" ry="1.03" fill="#a6d4ea" transform="rotate(3.49 564.76 165.11)"/><ellipse cx="589.69" cy="169" rx="4.06" ry="2.47" fill="#d4ecf6" transform="rotate(4.73 589.42 168.63)"/><ellipse cx="589.42" cy="168.63" rx="4.06" ry="2.47" fill="#23507f" transform="rotate(4.73 589.42 168.63)"/><ellipse cx="589.72" cy="169.18" rx="3.33" ry="1.78" fill="#c2e3f2" transform="rotate(4.73 589.42 168.63)"/><ellipse cx="589.72" cy="169.77" rx="2.92" ry="1.09" fill="#a6d4ea" transform="rotate(4.73 589.42 168.63)"/><ellipse cx="630.54" cy="174.86" rx="4.44" ry="2.71" fill="#d4ecf6" transform="rotate(5.97 630.25 174.46)"/><ellipse cx="630.25" cy="174.46" rx="4.44" ry="2.71" fill="#23507f" transform="rotate(5.97 630.25 174.46)"/><ellipse cx="630.58" cy="175.06" rx="3.64" ry="1.95" fill="#c2e3f2" transform="rotate(5.97 630.25 174.46)"/><ellipse cx="630.58" cy="175.71" rx="3.2" ry="1.19" fill="#a6d4ea" transform="rotate(5.97 630.25 174.46)"/><ellipse cx="660.71" cy="179.19" rx="4.73" ry="2.89" fill="#d4ecf6" transform="rotate(6.43 660.4 178.76)"/><ellipse cx="660.4" cy="178.76" rx="4.73" ry="2.89" fill="#23507f" transform="rotate(6.43 660.4 178.76)"/><ellipse cx="660.75" cy="179.4" rx="3.88" ry="2.08" fill="#c2e3f2" transform="rotate(6.43 660.4 178.76)"/><ellipse cx="660.75" cy="180.1" rx="3.4" ry="1.27" fill="#a6d4ea" transform="rotate(6.43 660.4 178.76)"/><ellipse cx="693.6" cy="183.91" rx="5.05" ry="3.08" fill="#eaf6fb" transform="rotate(6.66 693.28 183.45)"/><ellipse cx="693.28" cy="183.45" rx="5.05" ry="3.08" fill="#23507f" transform="rotate(6.66 693.28 183.45)"/><ellipse cx="693.65" cy="184.14" rx="4.14" ry="2.22" fill="#e2f2fa" transform="rotate(6.66 693.28 183.45)"/><ellipse cx="693.65" cy="184.88" rx="3.64" ry="1.36" fill="#b0daee" transform="rotate(6.66 693.28 183.45)"/><ellipse cx="529.18" cy="166.41" rx="3.82" ry="2.33" fill="#d4ecf6" transform="rotate(1.24 528.93 166.07)"/><ellipse cx="528.93" cy="166.07" rx="3.82" ry="2.33" fill="#23507f" transform="rotate(1.24 528.93 166.07)"/><ellipse cx="529.22" cy="166.59" rx="3.13" ry="1.68" fill="#c2e3f2" transform="rotate(1.24 528.93 166.07)"/><ellipse cx="529.22" cy="167.15" rx="2.75" ry="1.03" fill="#a6d4ea" transform="rotate(1.24 528.93 166.07)"/><ellipse cx="552.42" cy="169.98" rx="4.04" ry="2.47" fill="#d4ecf6" transform="rotate(3.05 552.16 169.62)"/><ellipse cx="552.16" cy="169.62" rx="4.04" ry="2.47" fill="#23507f" transform="rotate(3.05 552.16 169.62)"/><ellipse cx="552.46" cy="170.17" rx="3.32" ry="1.78" fill="#c2e3f2" transform="rotate(3.05 552.16 169.62)"/><ellipse cx="552.46" cy="170.76" rx="2.91" ry="1.09" fill="#a6d4ea" transform="rotate(3.05 552.16 169.62)"/><ellipse cx="590.88" cy="175.9" rx="4.43" ry="2.7" fill="#d4ecf6" transform="rotate(5.25 590.6 175.5)"/><ellipse cx="590.6" cy="175.5" rx="4.43" ry="2.7" fill="#23507f" transform="rotate(5.25 590.6 175.5)"/><ellipse cx="590.93" cy="176.1" rx="3.63" ry="1.94" fill="#c2e3f2" transform="rotate(5.25 590.6 175.5)"/><ellipse cx="590.93" cy="176.75" rx="3.19" ry="1.19" fill="#a6d4ea" transform="rotate(5.25 590.6 175.5)"/><ellipse cx="604.79" cy="178.03" rx="4.57" ry="2.79" fill="#d4ecf6" transform="rotate(5.79 604.49 177.62)"/><ellipse cx="604.49" cy="177.62" rx="4.57" ry="2.79" fill="#23507f" transform="rotate(5.79 604.49 177.62)"/><ellipse cx="604.83" cy="178.24" rx="3.74" ry="2.01" fill="#c2e3f2" transform="rotate(5.79 604.49 177.62)"/><ellipse cx="604.83" cy="178.91" rx="3.29" ry="1.23" fill="#a6d4ea" transform="rotate(5.79 604.49 177.62)"/><ellipse cx="619.29" cy="180.26" rx="4.71" ry="2.88" fill="#d4ecf6" transform="rotate(6.21 618.98 179.84)"/><ellipse cx="618.98" cy="179.84" rx="4.71" ry="2.88" fill="#23507f" transform="rotate(6.21 618.98 179.84)"/><ellipse cx="619.33" cy="180.48" rx="3.87" ry="2.07" fill="#c2e3f2" transform="rotate(6.21 618.98 179.84)"/><ellipse cx="619.33" cy="181.17" rx="3.39" ry="1.27" fill="#a6d4ea" transform="rotate(6.21 618.98 179.84)"/><ellipse cx="666.79" cy="187.57" rx="5.21" ry="3.18" fill="#eaf6fb" transform="rotate(6.98 666.45 187.1)"/><ellipse cx="666.45" cy="187.1" rx="5.21" ry="3.18" fill="#23507f" transform="rotate(6.98 666.45 187.1)"/><ellipse cx="666.84" cy="187.8" rx="4.27" ry="2.29" fill="#e2f2fa" transform="rotate(6.98 666.45 187.1)"/><ellipse cx="666.84" cy="188.57" rx="3.75" ry="1.4" fill="#b0daee" transform="rotate(6.98 666.45 187.1)"/><ellipse cx="538.88" cy="174.86" rx="4.28" ry="2.61" fill="#d4ecf6" transform="rotate(2.33 538.6 174.48)"/><ellipse cx="538.6" cy="174.48" rx="4.28" ry="2.61" fill="#23507f" transform="rotate(2.33 538.6 174.48)"/><ellipse cx="538.92" cy="175.06" rx="3.51" ry="1.88" fill="#c2e3f2" transform="rotate(2.33 538.6 174.48)"/><ellipse cx="538.92" cy="175.69" rx="3.08" ry="1.15" fill="#a6d4ea" transform="rotate(2.33 538.6 174.48)"/><ellipse cx="551.39" cy="176.93" rx="4.41" ry="2.69" fill="#d4ecf6" transform="rotate(3.38 551.11 176.53)"/><ellipse cx="551.11" cy="176.53" rx="4.41" ry="2.69" fill="#23507f" transform="rotate(3.38 551.11 176.53)"/><ellipse cx="551.43" cy="177.13" rx="3.62" ry="1.94" fill="#c2e3f2" transform="rotate(3.38 551.11 176.53)"/><ellipse cx="551.43" cy="177.78" rx="3.18" ry="1.18" fill="#a6d4ea" transform="rotate(3.38 551.11 176.53)"/><ellipse cx="578.04" cy="181.33" rx="4.7" ry="2.87" fill="#d4ecf6" transform="rotate(5.18 577.73 180.91)"/><ellipse cx="577.73" cy="180.91" rx="4.7" ry="2.87" fill="#23507f" transform="rotate(5.18 577.73 180.91)"/><ellipse cx="578.08" cy="181.55" rx="3.85" ry="2.06" fill="#c2e3f2" transform="rotate(5.18 577.73 180.91)"/><ellipse cx="578.08" cy="182.24" rx="3.38" ry="1.26" fill="#a6d4ea" transform="rotate(5.18 577.73 180.91)"/><ellipse cx="655.87" cy="194.19" rx="5.57" ry="3.4" fill="#eaf6fb" transform="rotate(7.44 655.51 193.69)"/><ellipse cx="655.51" cy="193.69" rx="5.57" ry="3.4" fill="#23507f" transform="rotate(7.44 655.51 193.69)"/><ellipse cx="655.92" cy="194.44" rx="4.57" ry="2.45" fill="#e2f2fa" transform="rotate(7.44 655.51 193.69)"/><ellipse cx="655.92" cy="195.26" rx="4.01" ry="1.5" fill="#b0daee" transform="rotate(7.44 655.51 193.69)"/><ellipse cx="673.74" cy="197.15" rx="5.78" ry="3.53" fill="#eaf6fb" transform="rotate(7.59 673.36 196.62)"/><ellipse cx="673.36" cy="196.62" rx="5.78" ry="3.53" fill="#23507f" transform="rotate(7.59 673.36 196.62)"/><ellipse cx="673.79" cy="197.41" rx="4.74" ry="2.54" fill="#e2f2fa" transform="rotate(7.59 673.36 196.62)"/><ellipse cx="673.79" cy="198.26" rx="4.16" ry="1.55" fill="#b0daee" transform="rotate(7.59 673.36 196.62)"/><ellipse cx="643.9" cy="201.45" rx="5.98" ry="3.65" fill="#eaf6fb" transform="rotate(7.97 643.52 200.91)"/><ellipse cx="643.52" cy="200.91" rx="5.98" ry="3.65" fill="#23507f" transform="rotate(7.97 643.52 200.91)"/><ellipse cx="643.96" cy="201.72" rx="4.9" ry="2.63" fill="#e2f2fa" transform="rotate(7.97 643.52 200.91)"/><ellipse cx="643.96" cy="202.6" rx="4.3" ry="1.6" fill="#b0daee" transform="rotate(7.97 643.52 200.91)"/><ellipse cx="579.23" cy="199.51" rx="5.74" ry="3.5" fill="#eaf6fb" transform="rotate(6.8 578.86 198.99)"/><ellipse cx="578.86" cy="198.99" rx="5.74" ry="3.5" fill="#23507f" transform="rotate(6.8 578.86 198.99)"/><ellipse cx="579.28" cy="199.77" rx="4.7" ry="2.52" fill="#e2f2fa" transform="rotate(6.8 578.86 198.99)"/><ellipse cx="579.28" cy="200.61" rx="4.13" ry="1.54" fill="#b0daee" transform="rotate(6.8 578.86 198.99)"/><ellipse cx="612.68" cy="205.96" rx="6.19" ry="3.78" fill="#eaf6fb" transform="rotate(8.19 612.28 205.4)"/><ellipse cx="612.28" cy="205.4" rx="6.19" ry="3.78" fill="#23507f" transform="rotate(8.19 612.28 205.4)"/><ellipse cx="612.74" cy="206.24" rx="5.07" ry="2.72" fill="#e2f2fa" transform="rotate(8.19 612.28 205.4)"/><ellipse cx="612.74" cy="207.15" rx="4.45" ry="1.66" fill="#b0daee" transform="rotate(8.19 612.28 205.4)"/><ellipse cx="630.73" cy="209.45" rx="6.43" ry="3.93" fill="#eaf6fb" transform="rotate(8.59 630.31 208.87)"/><ellipse cx="630.31" cy="208.87" rx="6.43" ry="3.93" fill="#23507f" transform="rotate(8.59 630.31 208.87)"/><ellipse cx="630.79" cy="209.74" rx="5.28" ry="2.83" fill="#e2f2fa" transform="rotate(8.59 630.31 208.87)"/><ellipse cx="630.79" cy="210.68" rx="4.63" ry="1.73" fill="#b0daee" transform="rotate(8.59 630.31 208.87)"/><ellipse cx="649.77" cy="213.12" rx="6.7" ry="4.09" fill="#eaf6fb" transform="rotate(8.84 649.33 212.52)"/><ellipse cx="649.33" cy="212.52" rx="6.7" ry="4.09" fill="#23507f" transform="rotate(8.84 649.33 212.52)"/><ellipse cx="649.83" cy="213.43" rx="5.49" ry="2.94" fill="#e2f2fa" transform="rotate(8.84 649.33 212.52)"/><ellipse cx="649.83" cy="214.41" rx="4.82" ry="1.8" fill="#b0daee" transform="rotate(8.84 649.33 212.52)"/><ellipse cx="579.97" cy="210.69" rx="6.41" ry="3.91" fill="#eaf6fb" transform="rotate(7.97 579.55 210.11)"/><ellipse cx="579.55" cy="210.11" rx="6.41" ry="3.91" fill="#23507f" transform="rotate(7.97 579.55 210.11)"/><ellipse cx="580.03" cy="210.98" rx="5.26" ry="2.82" fill="#e2f2fa" transform="rotate(7.97 579.55 210.11)"/><ellipse cx="580.03" cy="211.92" rx="4.61" ry="1.72" fill="#b0daee" transform="rotate(7.97 579.55 210.11)"/><ellipse cx="597.58" cy="214.39" rx="6.67" ry="4.07" fill="#eaf6fb" transform="rotate(8.8 597.14 213.78)"/><ellipse cx="597.14" cy="213.78" rx="6.67" ry="4.07" fill="#23507f" transform="rotate(8.8 597.14 213.78)"/><ellipse cx="597.64" cy="214.69" rx="5.47" ry="2.93" fill="#e2f2fa" transform="rotate(8.8 597.14 213.78)"/><ellipse cx="597.64" cy="215.67" rx="4.8" ry="1.79" fill="#b0daee" transform="rotate(8.8 597.14 213.78)"/><ellipse cx="635.82" cy="222.42" rx="7.25" ry="4.43" fill="#eaf6fb" transform="rotate(9.65 635.35 221.77)"/><ellipse cx="635.35" cy="221.77" rx="7.25" ry="4.43" fill="#23507f" transform="rotate(9.65 635.35 221.77)"/><ellipse cx="635.89" cy="222.75" rx="5.95" ry="3.19" fill="#e2f2fa" transform="rotate(9.65 635.35 221.77)"/><ellipse cx="635.89" cy="223.81" rx="5.22" ry="1.95" fill="#b0daee" transform="rotate(9.65 635.35 221.77)"/>
<ellipse cx="624.25" cy="118.78" rx="1.73" ry="1.05" fill="#6e6a1a" transform="rotate(2.53 624.25 118.8)"/><ellipse cx="624.28" cy="118.83" rx="1.57" ry="0.92" fill="#f6e932" transform="rotate(2.53 624.25 118.8)"/><ellipse cx="626.09" cy="120.97" rx="1.82" ry="1.1" fill="#6e6a1a" transform="rotate(2.67 626.09 120.99)"/><ellipse cx="626.12" cy="121.02" rx="1.65" ry="0.97" fill="#f6e932" transform="rotate(2.67 626.09 120.99)"/><ellipse cx="634.26" cy="121.51" rx="1.85" ry="1.12" fill="#6e6a1a" transform="rotate(2.78 634.26 121.53)"/><ellipse cx="634.3" cy="121.57" rx="1.68" ry="0.99" fill="#f6e932" transform="rotate(2.78 634.26 121.53)"/><ellipse cx="636.54" cy="123.9" rx="1.95" ry="1.19" fill="#6e6a1a" transform="rotate(2.94 636.54 123.92)"/><ellipse cx="636.58" cy="123.96" rx="1.77" ry="1.04" fill="#f6e932" transform="rotate(2.94 636.54 123.92)"/><ellipse cx="604.95" cy="123.97" rx="1.91" ry="1.16" fill="#6e6a1a" transform="rotate(2.52 604.95 124)"/><ellipse cx="604.99" cy="124.03" rx="1.73" ry="1.02" fill="#f6e932" transform="rotate(2.52 604.95 124)"/><ellipse cx="621.55" cy="125.19" rx="1.98" ry="1.21" fill="#6e6a1a" transform="rotate(2.84 621.55 125.21)"/><ellipse cx="621.59" cy="125.25" rx="1.8" ry="1.06" fill="#f6e932" transform="rotate(2.84 621.55 125.21)"/><ellipse cx="630.16" cy="125.82" rx="2.02" ry="1.23" fill="#0d5a20" transform="rotate(2.98 630.16 125.84)"/><ellipse cx="630.2" cy="125.88" rx="1.83" ry="1.08" fill="#22b03c" transform="rotate(2.98 630.16 125.84)"/><ellipse cx="638.99" cy="126.47" rx="2.06" ry="1.26" fill="#6e6a1a" transform="rotate(3.1 638.99 126.49)"/><ellipse cx="639.03" cy="126.53" rx="1.86" ry="1.11" fill="#f6e932" transform="rotate(3.1 638.99 126.49)"/><ellipse cx="657.33" cy="127.81" rx="2.14" ry="1.31" fill="#6e6a1a" transform="rotate(3.31 657.33 127.83)"/><ellipse cx="657.37" cy="127.87" rx="1.94" ry="1.15" fill="#f6e932" transform="rotate(3.31 657.33 127.83)"/><ellipse cx="597.92" cy="125.87" rx="1.98" ry="1.21" fill="#0d5a20" transform="rotate(2.48 597.92 125.89)"/><ellipse cx="597.96" cy="125.93" rx="1.79" ry="1.06" fill="#22b03c" transform="rotate(2.48 597.92 125.89)"/><ellipse cx="614.74" cy="127.16" rx="2.06" ry="1.26" fill="#6e1414" transform="rotate(2.85 614.74 127.18)"/><ellipse cx="614.78" cy="127.22" rx="1.86" ry="1.1" fill="#ee282c" transform="rotate(2.85 614.74 127.18)"/><ellipse cx="632.43" cy="128.52" rx="2.14" ry="1.31" fill="#0d5a20" transform="rotate(3.15 632.43 128.54)"/><ellipse cx="632.47" cy="128.58" rx="1.93" ry="1.15" fill="#22b03c" transform="rotate(3.15 632.43 128.54)"/><ellipse cx="641.62" cy="129.22" rx="2.18" ry="1.34" fill="#6e6a1a" transform="rotate(3.28 641.62 129.25)"/><ellipse cx="641.66" cy="129.29" rx="1.97" ry="1.17" fill="#f6e932" transform="rotate(3.28 641.62 129.25)"/><ellipse cx="660.75" cy="130.69" rx="2.27" ry="1.4" fill="#6e6a1a" transform="rotate(3.49 660.75 130.72)"/><ellipse cx="660.79" cy="130.76" rx="2.05" ry="1.23" fill="#f6e932" transform="rotate(3.49 660.75 130.72)"/><ellipse cx="590.55" cy="127.85" rx="2.05" ry="1.25" fill="#6e1414" transform="rotate(2.42 590.55 127.88)"/><ellipse cx="590.59" cy="127.91" rx="1.86" ry="1.1" fill="#ee282c" transform="rotate(2.42 590.55 127.88)"/><ellipse cx="607.59" cy="129.23" rx="2.13" ry="1.31" fill="#0d5a20" transform="rotate(2.84 607.59 129.25)"/><ellipse cx="607.63" cy="129.29" rx="1.93" ry="1.15" fill="#22b03c" transform="rotate(2.84 607.59 129.25)"/><ellipse cx="616.44" cy="129.94" rx="2.17" ry="1.34" fill="#6e1414" transform="rotate(3.02 616.44 129.97)"/><ellipse cx="616.49" cy="130.01" rx="1.97" ry="1.17" fill="#ee282c" transform="rotate(3.02 616.44 129.97)"/><ellipse cx="625.53" cy="130.68" rx="2.22" ry="1.36" fill="#6e1414" transform="rotate(3.19 625.53 130.7)"/><ellipse cx="625.58" cy="130.74" rx="2.01" ry="1.2" fill="#ee282c" transform="rotate(3.19 625.53 130.7)"/><ellipse cx="664.44" cy="133.81" rx="2.41" ry="1.49" fill="#6e1414" transform="rotate(3.69 664.44 133.84)"/><ellipse cx="664.49" cy="133.88" rx="2.18" ry="1.31" fill="#ee282c" transform="rotate(3.69 664.44 133.84)"/><ellipse cx="674.86" cy="134.65" rx="2.46" ry="1.52" fill="#6e6a1a" transform="rotate(3.77 674.86 134.68)"/><ellipse cx="674.91" cy="134.73" rx="2.22" ry="1.34" fill="#f6e932" transform="rotate(3.77 674.86 134.68)"/><ellipse cx="685.58" cy="135.52" rx="2.51" ry="1.56" fill="#6e1414" transform="rotate(3.85 685.58 135.55)"/><ellipse cx="685.63" cy="135.59" rx="2.27" ry="1.37" fill="#ee282c" transform="rotate(3.85 685.58 135.55)"/><ellipse cx="582.81" cy="129.94" rx="2.13" ry="1.3" fill="#6e6a1a" transform="rotate(2.33 582.81 129.96)"/><ellipse cx="582.85" cy="130" rx="1.93" ry="1.14" fill="#f6e932" transform="rotate(2.33 582.81 129.96)"/><ellipse cx="637.51" cy="134.58" rx="2.4" ry="1.49" fill="#6e6a1a" transform="rotate(3.54 637.51 134.6)"/><ellipse cx="637.56" cy="134.65" rx="2.17" ry="1.3" fill="#f6e932" transform="rotate(3.54 637.51 134.6)"/><ellipse cx="647.53" cy="135.43" rx="2.45" ry="1.52" fill="#6e1414" transform="rotate(3.68 647.53 135.45)"/><ellipse cx="647.58" cy="135.5" rx="2.22" ry="1.33" fill="#ee282c" transform="rotate(3.68 647.53 135.45)"/><ellipse cx="657.84" cy="136.3" rx="2.51" ry="1.56" fill="#0d5a20" transform="rotate(3.8 657.84 136.33)"/><ellipse cx="657.89" cy="136.37" rx="2.27" ry="1.37" fill="#22b03c" transform="rotate(3.8 657.84 136.33)"/><ellipse cx="668.45" cy="137.2" rx="2.56" ry="1.59" fill="#6e6a1a" transform="rotate(3.9 668.45 137.23)"/><ellipse cx="668.5" cy="137.27" rx="2.32" ry="1.4" fill="#f6e932" transform="rotate(3.9 668.45 137.23)"/><ellipse cx="690.63" cy="139.08" rx="2.68" ry="1.67" fill="#0d5a20" transform="rotate(4.05 690.63 139.11)"/><ellipse cx="690.68" cy="139.16" rx="2.42" ry="1.47" fill="#22b03c" transform="rotate(4.05 690.63 139.11)"/><ellipse cx="574.69" cy="132.12" rx="2.21" ry="1.36" fill="#0d5a20" transform="rotate(2.21 574.69 132.15)"/><ellipse cx="574.73" cy="132.19" rx="2" ry="1.19" fill="#22b03c" transform="rotate(2.21 574.69 132.15)"/><ellipse cx="592.18" cy="133.69" rx="2.3" ry="1.42" fill="#6e1414" transform="rotate(2.75 592.18 133.71)"/><ellipse cx="592.23" cy="133.75" rx="2.08" ry="1.24" fill="#ee282c" transform="rotate(2.75 592.18 133.71)"/><ellipse cx="630.18" cy="137.08" rx="2.5" ry="1.55" fill="#6e1414" transform="rotate(3.61 630.18 137.11)"/><ellipse cx="630.23" cy="137.15" rx="2.26" ry="1.36" fill="#ee282c" transform="rotate(3.61 630.18 137.11)"/><ellipse cx="640.37" cy="137.99" rx="2.56" ry="1.59" fill="#0d5a20" transform="rotate(3.77 640.37 138.02)"/><ellipse cx="640.42" cy="138.06" rx="2.31" ry="1.4" fill="#22b03c" transform="rotate(3.77 640.37 138.02)"/><ellipse cx="661.68" cy="139.89" rx="2.67" ry="1.67" fill="#0d5a20" transform="rotate(4.02 661.68 139.92)"/><ellipse cx="661.73" cy="139.97" rx="2.42" ry="1.47" fill="#22b03c" transform="rotate(4.02 661.68 139.92)"/><ellipse cx="684.3" cy="141.91" rx="2.8" ry="1.76" fill="#6e6a1a" transform="rotate(4.21 684.3 141.94)"/><ellipse cx="684.35" cy="141.99" rx="2.53" ry="1.54" fill="#f6e932" transform="rotate(4.21 684.3 141.94)"/><ellipse cx="696.15" cy="142.97" rx="2.86" ry="1.8" fill="#6e6a1a" transform="rotate(4.27 696.15 143)"/><ellipse cx="696.2" cy="143.05" rx="2.59" ry="1.58" fill="#f6e932" transform="rotate(4.27 696.15 143)"/><ellipse cx="720.99" cy="145.18" rx="3" ry="1.9" fill="#0d5a20" transform="rotate(4.36 720.99 145.22)"/><ellipse cx="721.05" cy="145.27" rx="2.72" ry="1.67" fill="#22b03c" transform="rotate(4.36 720.99 145.22)"/><ellipse cx="566.15" cy="134.42" rx="2.3" ry="1.42" fill="#0d5a20" transform="rotate(2.03 566.15 134.45)"/><ellipse cx="566.19" cy="134.49" rx="2.08" ry="1.24" fill="#22b03c" transform="rotate(2.03 566.15 134.45)"/><ellipse cx="583.87" cy="136.09" rx="2.39" ry="1.48" fill="#0d5a20" transform="rotate(2.66 583.87 136.12)"/><ellipse cx="583.91" cy="136.16" rx="2.16" ry="1.3" fill="#22b03c" transform="rotate(2.66 583.87 136.12)"/><ellipse cx="593.1" cy="136.96" rx="2.44" ry="1.51" fill="#0d5a20" transform="rotate(2.94 593.1 136.99)"/><ellipse cx="593.15" cy="137.03" rx="2.21" ry="1.33" fill="#22b03c" transform="rotate(2.94 593.1 136.99)"/><ellipse cx="602.6" cy="137.85" rx="2.5" ry="1.55" fill="#6e1414" transform="rotate(3.21 602.6 137.88)"/><ellipse cx="602.65" cy="137.93" rx="2.26" ry="1.36" fill="#ee282c" transform="rotate(3.21 602.6 137.88)"/><ellipse cx="612.38" cy="138.77" rx="2.55" ry="1.59" fill="#6e1414" transform="rotate(3.44 612.38 138.8)"/><ellipse cx="612.43" cy="138.85" rx="2.31" ry="1.39" fill="#ee282c" transform="rotate(3.44 612.38 138.8)"/><ellipse cx="665.86" cy="143.81" rx="2.86" ry="1.8" fill="#0d5a20" transform="rotate(4.27 665.86 143.84)"/><ellipse cx="665.92" cy="143.89" rx="2.58" ry="1.58" fill="#22b03c" transform="rotate(4.27 665.86 143.84)"/><ellipse cx="689.69" cy="146.05" rx="3" ry="1.89" fill="#6e1414" transform="rotate(4.45 689.69 146.08)"/><ellipse cx="689.74" cy="146.14" rx="2.71" ry="1.66" fill="#ee282c" transform="rotate(4.45 689.69 146.08)"/><ellipse cx="702.19" cy="147.23" rx="3.07" ry="1.95" fill="#0d5a20" transform="rotate(4.51 702.19 147.26)"/><ellipse cx="702.25" cy="147.31" rx="2.78" ry="1.71" fill="#22b03c" transform="rotate(4.51 702.19 147.26)"/><ellipse cx="715.11" cy="148.44" rx="3.15" ry="2" fill="#6e1414" transform="rotate(4.55 715.11 148.48)"/><ellipse cx="715.17" cy="148.53" rx="2.85" ry="1.76" fill="#ee282c" transform="rotate(4.55 715.11 148.48)"/><ellipse cx="566" cy="137.73" rx="2.44" ry="1.51" fill="#6e1414" transform="rotate(2.17 566 137.75)"/><ellipse cx="566.05" cy="137.8" rx="2.21" ry="1.33" fill="#ee282c" transform="rotate(2.17 566 137.75)"/><ellipse cx="584.46" cy="139.56" rx="2.54" ry="1.58" fill="#0d5a20" transform="rotate(2.85 584.46 139.59)"/><ellipse cx="584.51" cy="139.63" rx="2.3" ry="1.39" fill="#22b03c" transform="rotate(2.85 584.46 139.59)"/><ellipse cx="594.1" cy="140.52" rx="2.6" ry="1.62" fill="#6e1414" transform="rotate(3.16 594.1 140.55)"/><ellipse cx="594.15" cy="140.59" rx="2.35" ry="1.42" fill="#ee282c" transform="rotate(3.16 594.1 140.55)"/><ellipse cx="604.03" cy="141.5" rx="2.66" ry="1.66" fill="#6e6a1a" transform="rotate(3.44 604.03 141.53)"/><ellipse cx="604.08" cy="141.58" rx="2.41" ry="1.46" fill="#f6e932" transform="rotate(3.44 604.03 141.53)"/><ellipse cx="624.8" cy="143.57" rx="2.78" ry="1.75" fill="#0d5a20" transform="rotate(3.92 624.8 143.6)"/><ellipse cx="624.85" cy="143.65" rx="2.52" ry="1.53" fill="#22b03c" transform="rotate(3.92 624.8 143.6)"/><ellipse cx="635.68" cy="144.65" rx="2.85" ry="1.79" fill="#0d5a20" transform="rotate(4.11 635.68 144.68)"/><ellipse cx="635.73" cy="144.73" rx="2.58" ry="1.57" fill="#22b03c" transform="rotate(4.11 635.68 144.68)"/><ellipse cx="646.9" cy="145.76" rx="2.92" ry="1.84" fill="#6e1414" transform="rotate(4.28 646.9 145.79)"/><ellipse cx="646.95" cy="145.84" rx="2.64" ry="1.61" fill="#ee282c" transform="rotate(4.28 646.9 145.79)"/><ellipse cx="695.61" cy="150.6" rx="3.22" ry="2.05" fill="#6e1414" transform="rotate(4.71 695.61 150.63)"/><ellipse cx="695.67" cy="150.69" rx="2.91" ry="1.8" fill="#ee282c" transform="rotate(4.71 695.61 150.63)"/><ellipse cx="722.53" cy="153.27" rx="3.39" ry="2.17" fill="#6e1414" transform="rotate(4.8 722.53 153.31)"/><ellipse cx="722.6" cy="153.37" rx="3.07" ry="1.91" fill="#ee282c" transform="rotate(4.8 722.53 153.31)"/><ellipse cx="722.37" cy="152.72" rx="1.78" ry="0.82" fill="#ff6a5a" opacity="0.35" transform="rotate(4.8 722.53 153.31)"/><ellipse cx="556.62" cy="140.34" rx="2.54" ry="1.58" fill="#6e1414" transform="rotate(1.92 556.62 140.37)"/><ellipse cx="556.67" cy="140.41" rx="2.3" ry="1.39" fill="#ee282c" transform="rotate(1.92 556.62 140.37)"/><ellipse cx="565.84" cy="141.31" rx="2.6" ry="1.62" fill="#6e6a1a" transform="rotate(2.32 565.84 141.34)"/><ellipse cx="565.89" cy="141.38" rx="2.35" ry="1.42" fill="#f6e932" transform="rotate(2.32 565.84 141.34)"/><ellipse cx="575.33" cy="142.3" rx="2.65" ry="1.66" fill="#6e1414" transform="rotate(2.71 575.33 142.34)"/><ellipse cx="575.38" cy="142.38" rx="2.4" ry="1.45" fill="#ee282c" transform="rotate(2.71 575.33 142.34)"/><ellipse cx="585.1" cy="143.33" rx="2.71" ry="1.7" fill="#0d5a20" transform="rotate(3.07 585.1 143.36)"/><ellipse cx="585.16" cy="143.41" rx="2.46" ry="1.49" fill="#22b03c" transform="rotate(3.07 585.1 143.36)"/><ellipse cx="595.18" cy="144.39" rx="2.78" ry="1.74" fill="#6e6a1a" transform="rotate(3.4 595.18 144.42)"/><ellipse cx="595.24" cy="144.47" rx="2.51" ry="1.53" fill="#f6e932" transform="rotate(3.4 595.18 144.42)"/><ellipse cx="605.58" cy="145.48" rx="2.84" ry="1.79" fill="#0d5a20" transform="rotate(3.7 605.58 145.51)"/><ellipse cx="605.63" cy="145.56" rx="2.57" ry="1.57" fill="#22b03c" transform="rotate(3.7 605.58 145.51)"/><ellipse cx="616.31" cy="146.61" rx="2.91" ry="1.83" fill="#6e1414" transform="rotate(3.97 616.31 146.64)"/><ellipse cx="616.36" cy="146.69" rx="2.63" ry="1.61" fill="#ee282c" transform="rotate(3.97 616.31 146.64)"/><ellipse cx="627.38" cy="147.77" rx="2.98" ry="1.88" fill="#6e1414" transform="rotate(4.2 627.38 147.8)"/><ellipse cx="627.43" cy="147.86" rx="2.7" ry="1.65" fill="#ee282c" transform="rotate(4.2 627.38 147.8)"/><ellipse cx="650.63" cy="150.21" rx="3.13" ry="1.99" fill="#6e6a1a" transform="rotate(4.57 650.63 150.25)"/><ellipse cx="650.69" cy="150.3" rx="2.83" ry="1.75" fill="#f6e932" transform="rotate(4.57 650.63 150.25)"/><ellipse cx="675.5" cy="152.82" rx="3.3" ry="2.11" fill="#0d5a20" transform="rotate(4.83 675.5 152.86)"/><ellipse cx="675.56" cy="152.92" rx="2.98" ry="1.85" fill="#22b03c" transform="rotate(4.83 675.5 152.86)"/><ellipse cx="688.58" cy="154.19" rx="3.38" ry="2.17" fill="#6e6a1a" transform="rotate(4.92 688.58 154.23)"/><ellipse cx="688.65" cy="154.29" rx="3.06" ry="1.9" fill="#f6e932" transform="rotate(4.92 688.58 154.23)"/><ellipse cx="688.42" cy="153.64" rx="1.77" ry="0.82" fill="#fffa90" opacity="0.35" transform="rotate(4.92 688.58 154.23)"/><ellipse cx="546.71" cy="143.1" rx="2.65" ry="1.65" fill="#0d5a20" transform="rotate(1.58 546.71 143.14)"/><ellipse cx="546.76" cy="143.18" rx="2.4" ry="1.45" fill="#22b03c" transform="rotate(1.58 546.71 143.14)"/><ellipse cx="556.04" cy="144.14" rx="2.71" ry="1.69" fill="#6e1414" transform="rotate(2.05 556.04 144.17)"/><ellipse cx="556.09" cy="144.22" rx="2.45" ry="1.49" fill="#ee282c" transform="rotate(2.05 556.04 144.17)"/><ellipse cx="585.81" cy="147.45" rx="2.9" ry="1.83" fill="#6e1414" transform="rotate(3.31 585.81 147.48)"/><ellipse cx="585.86" cy="147.54" rx="2.63" ry="1.61" fill="#ee282c" transform="rotate(3.31 585.81 147.48)"/><ellipse cx="596.37" cy="148.62" rx="2.98" ry="1.88" fill="#6e1414" transform="rotate(3.67 596.37 148.66)"/><ellipse cx="596.43" cy="148.71" rx="2.69" ry="1.65" fill="#ee282c" transform="rotate(3.67 596.37 148.66)"/><ellipse cx="630.21" cy="152.39" rx="3.21" ry="2.04" fill="#6e6a1a" transform="rotate(4.52 630.21 152.42)"/><ellipse cx="630.27" cy="152.48" rx="2.9" ry="1.79" fill="#f6e932" transform="rotate(4.52 630.21 152.42)"/><ellipse cx="642.27" cy="153.73" rx="3.29" ry="2.1" fill="#0d5a20" transform="rotate(4.73 642.27 153.76)"/><ellipse cx="642.33" cy="153.82" rx="2.98" ry="1.84" fill="#22b03c" transform="rotate(4.73 642.27 153.76)"/><ellipse cx="654.75" cy="155.11" rx="3.38" ry="2.16" fill="#0d5a20" transform="rotate(4.9 654.75 155.15)"/><ellipse cx="654.81" cy="155.21" rx="3.05" ry="1.9" fill="#22b03c" transform="rotate(4.9 654.75 155.15)"/><ellipse cx="654.59" cy="154.56" rx="1.77" ry="0.82" fill="#6ad86a" opacity="0.35" transform="rotate(4.9 654.75 155.15)"/><ellipse cx="667.68" cy="156.55" rx="3.47" ry="2.23" fill="#6e1414" transform="rotate(5.04 667.68 156.59)"/><ellipse cx="667.74" cy="156.65" rx="3.14" ry="1.95" fill="#ee282c" transform="rotate(5.04 667.68 156.59)"/><ellipse cx="667.51" cy="155.99" rx="1.82" ry="0.84" fill="#ff6a5a" opacity="0.35" transform="rotate(5.04 667.68 156.59)"/><ellipse cx="724.36" cy="162.85" rx="3.87" ry="2.52" fill="#6e6a1a" transform="rotate(5.32 724.36 162.9)"/><ellipse cx="724.43" cy="162.96" rx="3.51" ry="2.21" fill="#f6e932" transform="rotate(5.32 724.36 162.9)"/><ellipse cx="724.17" cy="162.22" rx="2.03" ry="0.95" fill="#fffa90" opacity="0.35" transform="rotate(5.32 724.36 162.9)"/><ellipse cx="527.07" cy="144.95" rx="2.7" ry="1.69" fill="#6e6a1a" transform="rotate(0.62 527.07 144.98)"/><ellipse cx="527.12" cy="145.03" rx="2.45" ry="1.48" fill="#f6e932" transform="rotate(0.62 527.07 144.98)"/><ellipse cx="536.22" cy="146.03" rx="2.77" ry="1.73" fill="#0d5a20" transform="rotate(1.14 536.22 146.06)"/><ellipse cx="536.28" cy="146.11" rx="2.5" ry="1.52" fill="#22b03c" transform="rotate(1.14 536.22 146.06)"/><ellipse cx="545.67" cy="147.14" rx="2.83" ry="1.78" fill="#6e6a1a" transform="rotate(1.67 545.67 147.18)"/><ellipse cx="545.72" cy="147.23" rx="2.56" ry="1.56" fill="#f6e932" transform="rotate(1.67 545.67 147.18)"/><ellipse cx="565.46" cy="149.48" rx="2.97" ry="1.87" fill="#0d5a20" transform="rotate(2.69 565.46 149.51)"/><ellipse cx="565.52" cy="149.56" rx="2.69" ry="1.64" fill="#22b03c" transform="rotate(2.69 565.46 149.51)"/><ellipse cx="575.85" cy="150.7" rx="3.04" ry="1.93" fill="#6e6a1a" transform="rotate(3.16 575.85 150.74)"/><ellipse cx="575.91" cy="150.79" rx="2.75" ry="1.69" fill="#f6e932" transform="rotate(3.16 575.85 150.74)"/><ellipse cx="597.68" cy="153.28" rx="3.2" ry="2.03" fill="#0d5a20" transform="rotate(3.98 597.68 153.31)"/><ellipse cx="597.74" cy="153.37" rx="2.89" ry="1.79" fill="#22b03c" transform="rotate(3.98 597.68 153.31)"/><ellipse cx="633.34" cy="157.48" rx="3.46" ry="2.22" fill="#6e1414" transform="rotate(4.88 633.34 157.52)"/><ellipse cx="633.4" cy="157.58" rx="3.13" ry="1.95" fill="#ee282c" transform="rotate(4.88 633.34 157.52)"/><ellipse cx="633.17" cy="156.92" rx="1.81" ry="0.84" fill="#ff6a5a" opacity="0.35" transform="rotate(4.88 633.34 157.52)"/><ellipse cx="646.09" cy="158.99" rx="3.55" ry="2.29" fill="#6e1414" transform="rotate(5.09 646.09 159.03)"/><ellipse cx="646.15" cy="159.09" rx="3.21" ry="2.01" fill="#ee282c" transform="rotate(5.09 646.09 159.03)"/><ellipse cx="645.92" cy="158.41" rx="1.86" ry="0.86" fill="#ff6a5a" opacity="0.35" transform="rotate(5.09 646.09 159.03)"/><ellipse cx="673.03" cy="162.16" rx="3.75" ry="2.43" fill="#6e6a1a" transform="rotate(5.39 673.03 162.21)"/><ellipse cx="673.1" cy="162.27" rx="3.4" ry="2.14" fill="#f6e932" transform="rotate(5.39 673.03 162.21)"/><ellipse cx="672.85" cy="161.55" rx="1.97" ry="0.92" fill="#fffa90" opacity="0.35" transform="rotate(5.39 673.03 162.21)"/><ellipse cx="687.27" cy="163.84" rx="3.86" ry="2.51" fill="#6e1414" transform="rotate(5.49 687.27 163.89)"/><ellipse cx="687.35" cy="163.95" rx="3.5" ry="2.21" fill="#ee282c" transform="rotate(5.49 687.27 163.89)"/><ellipse cx="687.09" cy="163.21" rx="2.02" ry="0.95" fill="#ff6a5a" opacity="0.35" transform="rotate(5.49 687.27 163.89)"/><ellipse cx="702.08" cy="165.59" rx="3.98" ry="2.6" fill="#6e6a1a" transform="rotate(5.56 702.08 165.63)"/><ellipse cx="702.15" cy="165.7" rx="3.6" ry="2.28" fill="#f6e932" transform="rotate(5.56 702.08 165.63)"/><ellipse cx="701.89" cy="164.94" rx="2.08" ry="0.98" fill="#fffa90" opacity="0.35" transform="rotate(5.56 702.08 165.63)"/><ellipse cx="544.52" cy="151.57" rx="3.03" ry="1.92" fill="#6e1414" transform="rotate(1.77 544.52 151.6)"/><ellipse cx="544.58" cy="151.65" rx="2.75" ry="1.68" fill="#ee282c" transform="rotate(1.77 544.52 151.6)"/><ellipse cx="565.25" cy="154.16" rx="3.19" ry="2.03" fill="#6e6a1a" transform="rotate(2.92 565.25 154.2)"/><ellipse cx="565.31" cy="154.26" rx="2.89" ry="1.78" fill="#f6e932" transform="rotate(2.92 565.25 154.2)"/><ellipse cx="623.78" cy="161.5" rx="3.64" ry="2.35" fill="#6e6a1a" transform="rotate(5.02 623.78 161.54)"/><ellipse cx="623.85" cy="161.61" rx="3.29" ry="2.06" fill="#f6e932" transform="rotate(5.02 623.78 161.54)"/><ellipse cx="623.6" cy="160.91" rx="1.91" ry="0.89" fill="#fffa90" opacity="0.35" transform="rotate(5.02 623.78 161.54)"/><ellipse cx="636.8" cy="163.13" rx="3.74" ry="2.43" fill="#6e1414" transform="rotate(5.28 636.8 163.18)"/><ellipse cx="636.87" cy="163.24" rx="3.39" ry="2.13" fill="#ee282c" transform="rotate(5.28 636.8 163.18)"/><ellipse cx="636.62" cy="162.52" rx="1.96" ry="0.92" fill="#ff6a5a" opacity="0.35" transform="rotate(5.28 636.8 163.18)"/><ellipse cx="650.33" cy="164.83" rx="3.85" ry="2.51" fill="#6e6a1a" transform="rotate(5.49 650.33 164.87)"/><ellipse cx="650.4" cy="164.94" rx="3.49" ry="2.2" fill="#f6e932" transform="rotate(5.49 650.33 164.87)"/><ellipse cx="650.14" cy="164.2" rx="2.02" ry="0.95" fill="#fffa90" opacity="0.35" transform="rotate(5.49 650.33 164.87)"/><ellipse cx="694.2" cy="170.33" rx="4.21" ry="2.77" fill="#0d5a20" transform="rotate(5.86 694.2 170.38)"/><ellipse cx="694.28" cy="170.45" rx="3.81" ry="2.43" fill="#22b03c" transform="rotate(5.86 694.2 170.38)"/><ellipse cx="694" cy="169.64" rx="2.21" ry="1.05" fill="#6ad86a" opacity="0.35" transform="rotate(5.86 694.2 170.38)"/><ellipse cx="710.04" cy="172.31" rx="4.34" ry="2.87" fill="#6e1414" transform="rotate(5.92 710.04 172.36)"/><ellipse cx="710.13" cy="172.44" rx="3.93" ry="2.52" fill="#ee282c" transform="rotate(5.92 710.04 172.36)"/><ellipse cx="709.84" cy="171.61" rx="2.27" ry="1.08" fill="#ff6a5a" opacity="0.35" transform="rotate(5.92 710.04 172.36)"/><ellipse cx="522.95" cy="153.71" rx="3.1" ry="1.97" fill="#0d5a20" transform="rotate(0.53 522.95 153.75)"/><ellipse cx="523.01" cy="153.8" rx="2.81" ry="1.73" fill="#22b03c" transform="rotate(0.53 522.95 153.75)"/><ellipse cx="576.48" cy="160.86" rx="3.53" ry="2.27" fill="#6e6a1a" transform="rotate(3.76 576.48 160.91)"/><ellipse cx="576.55" cy="160.97" rx="3.2" ry="2" fill="#f6e932" transform="rotate(3.76 576.48 160.91)"/><ellipse cx="576.32" cy="160.29" rx="1.85" ry="0.86" fill="#fffa90" opacity="0.35" transform="rotate(3.76 576.48 160.91)"/><ellipse cx="588.38" cy="162.45" rx="3.63" ry="2.34" fill="#6e1414" transform="rotate(4.29 588.38 162.49)"/><ellipse cx="588.44" cy="162.56" rx="3.29" ry="2.06" fill="#ee282c" transform="rotate(4.29 588.38 162.49)"/><ellipse cx="588.2" cy="161.86" rx="1.9" ry="0.88" fill="#ff6a5a" opacity="0.35" transform="rotate(4.29 588.38 162.49)"/><ellipse cx="600.71" cy="164.1" rx="3.73" ry="2.42" fill="#6e1414" transform="rotate(4.75 600.71 164.14)"/><ellipse cx="600.78" cy="164.21" rx="3.38" ry="2.12" fill="#ee282c" transform="rotate(4.75 600.71 164.14)"/><ellipse cx="600.53" cy="163.49" rx="1.96" ry="0.91" fill="#ff6a5a" opacity="0.35" transform="rotate(4.75 600.71 164.14)"/><ellipse cx="613.52" cy="165.81" rx="3.84" ry="2.5" fill="#0d5a20" transform="rotate(5.14 613.52 165.86)"/><ellipse cx="613.59" cy="165.92" rx="3.48" ry="2.19" fill="#22b03c" transform="rotate(5.14 613.52 165.86)"/><ellipse cx="613.34" cy="165.19" rx="2.01" ry="0.94" fill="#6ad86a" opacity="0.35" transform="rotate(5.14 613.52 165.86)"/><ellipse cx="626.83" cy="167.59" rx="3.95" ry="2.58" fill="#6e1414" transform="rotate(5.46 626.83 167.63)"/><ellipse cx="626.91" cy="167.7" rx="3.58" ry="2.26" fill="#ee282c" transform="rotate(5.46 626.83 167.63)"/><ellipse cx="626.64" cy="166.94" rx="2.07" ry="0.97" fill="#ff6a5a" opacity="0.35" transform="rotate(5.46 626.83 167.63)"/><ellipse cx="640.67" cy="169.44" rx="4.07" ry="2.67" fill="#6e6a1a" transform="rotate(5.72 640.67 169.48)"/><ellipse cx="640.75" cy="169.55" rx="3.68" ry="2.34" fill="#f6e932" transform="rotate(5.72 640.67 169.48)"/><ellipse cx="640.48" cy="168.77" rx="2.13" ry="1.01" fill="#fffa90" opacity="0.35" transform="rotate(5.72 640.67 169.48)"/><ellipse cx="670.07" cy="173.36" rx="4.33" ry="2.86" fill="#6e1414" transform="rotate(6.09 670.07 173.41)"/><ellipse cx="670.15" cy="173.49" rx="3.92" ry="2.51" fill="#ee282c" transform="rotate(6.09 670.07 173.41)"/><ellipse cx="669.86" cy="172.66" rx="2.27" ry="1.08" fill="#ff6a5a" opacity="0.35" transform="rotate(6.09 670.07 173.41)"/><ellipse cx="685.7" cy="175.45" rx="4.47" ry="2.97" fill="#6e6a1a" transform="rotate(6.2 685.7 175.5)"/><ellipse cx="685.78" cy="175.58" rx="4.04" ry="2.6" fill="#f6e932" transform="rotate(6.2 685.7 175.5)"/><ellipse cx="685.49" cy="174.72" rx="2.34" ry="1.12" fill="#fffa90" opacity="0.35" transform="rotate(6.2 685.7 175.5)"/><ellipse cx="702.01" cy="177.63" rx="4.61" ry="3.08" fill="#6e1414" transform="rotate(6.27 702.01 177.68)"/><ellipse cx="702.09" cy="177.76" rx="4.17" ry="2.7" fill="#ee282c" transform="rotate(6.27 702.01 177.68)"/><ellipse cx="701.79" cy="176.88" rx="2.42" ry="1.16" fill="#ff6a5a" opacity="0.35" transform="rotate(6.27 702.01 177.68)"/><ellipse cx="541.87" cy="161.8" rx="3.52" ry="2.27" fill="#0d5a20" transform="rotate(2.01 541.87 161.84)"/><ellipse cx="541.94" cy="161.9" rx="3.19" ry="1.99" fill="#22b03c" transform="rotate(2.01 541.87 161.84)"/><ellipse cx="541.7" cy="161.23" rx="1.85" ry="0.86" fill="#6ad86a" opacity="0.35" transform="rotate(2.01 541.87 161.84)"/><ellipse cx="576.85" cy="166.79" rx="3.83" ry="2.49" fill="#0d5a20" transform="rotate(4.15 576.85 166.83)"/><ellipse cx="576.93" cy="166.9" rx="3.47" ry="2.18" fill="#22b03c" transform="rotate(4.15 576.85 166.83)"/><ellipse cx="576.67" cy="166.17" rx="2.01" ry="0.94" fill="#6ad86a" opacity="0.35" transform="rotate(4.15 576.85 166.83)"/><ellipse cx="602.49" cy="170.45" rx="4.06" ry="2.66" fill="#6e6a1a" transform="rotate(5.22 602.49 170.49)"/><ellipse cx="602.57" cy="170.57" rx="3.67" ry="2.33" fill="#f6e932" transform="rotate(5.22 602.49 170.49)"/><ellipse cx="602.3" cy="169.79" rx="2.13" ry="1" fill="#fffa90" opacity="0.35" transform="rotate(5.22 602.49 170.49)"/><ellipse cx="616.09" cy="172.39" rx="4.18" ry="2.75" fill="#0d5a20" transform="rotate(5.64 616.09 172.44)"/><ellipse cx="616.17" cy="172.51" rx="3.79" ry="2.42" fill="#22b03c" transform="rotate(5.64 616.09 172.44)"/><ellipse cx="615.89" cy="171.71" rx="2.19" ry="1.04" fill="#6ad86a" opacity="0.35" transform="rotate(5.64 616.09 172.44)"/><ellipse cx="645.01" cy="176.51" rx="4.45" ry="2.96" fill="#0d5a20" transform="rotate(6.23 645.01 176.56)"/><ellipse cx="645.09" cy="176.64" rx="4.03" ry="2.59" fill="#22b03c" transform="rotate(6.23 645.01 176.56)"/><ellipse cx="644.8" cy="175.79" rx="2.33" ry="1.12" fill="#6ad86a" opacity="0.35" transform="rotate(6.23 645.01 176.56)"/><ellipse cx="676.48" cy="181" rx="4.75" ry="3.18" fill="#0d5a20" transform="rotate(6.57 676.48 181.06)"/><ellipse cx="676.57" cy="181.14" rx="4.3" ry="2.79" fill="#22b03c" transform="rotate(6.57 676.48 181.06)"/><ellipse cx="676.25" cy="180.23" rx="2.49" ry="1.2" fill="#6ad86a" opacity="0.35" transform="rotate(6.57 676.48 181.06)"/><ellipse cx="540.33" cy="167.77" rx="3.82" ry="2.48" fill="#6e6a1a" transform="rotate(2.16 540.33 167.81)"/><ellipse cx="540.4" cy="167.88" rx="3.46" ry="2.18" fill="#f6e932" transform="rotate(2.16 540.33 167.81)"/><ellipse cx="540.14" cy="167.14" rx="2" ry="0.94" fill="#fffa90" opacity="0.35" transform="rotate(2.16 540.33 167.81)"/><ellipse cx="564.47" cy="171.45" rx="4.05" ry="2.65" fill="#6e1414" transform="rotate(3.87 564.47 171.5)"/><ellipse cx="564.54" cy="171.57" rx="3.66" ry="2.33" fill="#ee282c" transform="rotate(3.87 564.47 171.5)"/><ellipse cx="564.27" cy="170.8" rx="2.12" ry="1" fill="#ff6a5a" opacity="0.35" transform="rotate(3.87 564.47 171.5)"/><ellipse cx="577.27" cy="173.41" rx="4.17" ry="2.74" fill="#6e6a1a" transform="rotate(4.61 577.27 173.46)"/><ellipse cx="577.35" cy="173.53" rx="3.77" ry="2.41" fill="#f6e932" transform="rotate(4.61 577.27 173.46)"/><ellipse cx="577.07" cy="172.73" rx="2.19" ry="1.04" fill="#fffa90" opacity="0.35" transform="rotate(4.61 577.27 173.46)"/><ellipse cx="634.11" cy="182.1" rx="4.73" ry="3.17" fill="#6e1414" transform="rotate(6.55 634.11 182.15)"/><ellipse cx="634.2" cy="182.23" rx="4.28" ry="2.78" fill="#ee282c" transform="rotate(6.55 634.11 182.15)"/><ellipse cx="633.88" cy="181.33" rx="2.48" ry="1.2" fill="#ff6a5a" opacity="0.35" transform="rotate(6.55 634.11 182.15)"/><ellipse cx="649.92" cy="184.51" rx="4.9" ry="3.3" fill="#6e6a1a" transform="rotate(6.8 649.92 184.57)"/><ellipse cx="650.01" cy="184.65" rx="4.43" ry="2.89" fill="#f6e932" transform="rotate(6.8 649.92 184.57)"/><ellipse cx="649.68" cy="183.71" rx="2.56" ry="1.24" fill="#fffa90" opacity="0.35" transform="rotate(6.8 649.92 184.57)"/><ellipse cx="683.77" cy="189.68" rx="5.25" ry="3.57" fill="#6e1414" transform="rotate(7.1 683.77 189.74)"/><ellipse cx="683.87" cy="189.84" rx="4.75" ry="3.13" fill="#ee282c" transform="rotate(7.1 683.77 189.74)"/><ellipse cx="683.52" cy="188.83" rx="2.75" ry="1.35" fill="#ff6a5a" opacity="0.35" transform="rotate(7.1 683.77 189.74)"/><ellipse cx="564.14" cy="178.62" rx="4.43" ry="2.93" fill="#0d5a20" transform="rotate(4.34 564.14 178.67)"/><ellipse cx="564.22" cy="178.75" rx="4" ry="2.57" fill="#22b03c" transform="rotate(4.34 564.14 178.67)"/><ellipse cx="563.93" cy="177.9" rx="2.32" ry="1.11" fill="#6ad86a" opacity="0.35" transform="rotate(4.34 564.14 178.67)"/><ellipse cx="591.92" cy="183.19" rx="4.72" ry="3.16" fill="#6e1414" transform="rotate(5.89 591.92 183.24)"/><ellipse cx="592.01" cy="183.32" rx="4.27" ry="2.77" fill="#ee282c" transform="rotate(5.89 591.92 183.24)"/><ellipse cx="591.7" cy="182.42" rx="2.47" ry="1.19" fill="#ff6a5a" opacity="0.35" transform="rotate(5.89 591.92 183.24)"/><ellipse cx="606.75" cy="185.62" rx="4.88" ry="3.28" fill="#0d5a20" transform="rotate(6.45 606.75 185.68)"/><ellipse cx="606.84" cy="185.76" rx="4.41" ry="2.88" fill="#22b03c" transform="rotate(6.45 606.75 185.68)"/><ellipse cx="606.52" cy="184.83" rx="2.56" ry="1.24" fill="#6ad86a" opacity="0.35" transform="rotate(6.45 606.75 185.68)"/><ellipse cx="622.26" cy="188.17" rx="5.05" ry="3.42" fill="#6e6a1a" transform="rotate(6.89 622.26 188.22)"/><ellipse cx="622.35" cy="188.31" rx="4.57" ry="3" fill="#f6e932" transform="rotate(6.89 622.26 188.22)"/><ellipse cx="622.01" cy="187.34" rx="2.64" ry="1.29" fill="#fffa90" opacity="0.35" transform="rotate(6.89 622.26 188.22)"/><ellipse cx="638.49" cy="190.83" rx="5.23" ry="3.56" fill="#6e1414" transform="rotate(7.21 638.49 190.89)"/><ellipse cx="638.59" cy="190.98" rx="4.73" ry="3.12" fill="#ee282c" transform="rotate(7.21 638.49 190.89)"/><ellipse cx="638.24" cy="189.98" rx="2.74" ry="1.34" fill="#ff6a5a" opacity="0.35" transform="rotate(7.21 638.49 190.89)"/><ellipse cx="549.92" cy="184.27" rx="4.7" ry="3.15" fill="#6e1414" transform="rotate(3.8 549.92 184.33)"/><ellipse cx="550.01" cy="184.41" rx="4.26" ry="2.76" fill="#ee282c" transform="rotate(3.8 549.92 184.33)"/><ellipse cx="549.69" cy="183.51" rx="2.46" ry="1.19" fill="#ff6a5a" opacity="0.35" transform="rotate(3.8 549.92 184.33)"/><ellipse cx="563.77" cy="186.72" rx="4.86" ry="3.27" fill="#6e6a1a" transform="rotate(4.94 563.77 186.78)"/><ellipse cx="563.86" cy="186.87" rx="4.4" ry="2.87" fill="#f6e932" transform="rotate(4.94 563.77 186.78)"/><ellipse cx="563.54" cy="185.93" rx="2.55" ry="1.23" fill="#fffa90" opacity="0.35" transform="rotate(4.94 563.77 186.78)"/><ellipse cx="578.26" cy="189.29" rx="5.03" ry="3.4" fill="#0d5a20" transform="rotate(5.89 578.26 189.35)"/><ellipse cx="578.35" cy="189.44" rx="4.55" ry="2.99" fill="#22b03c" transform="rotate(5.89 578.26 189.35)"/><ellipse cx="578.02" cy="188.47" rx="2.64" ry="1.28" fill="#6ad86a" opacity="0.35" transform="rotate(5.89 578.26 189.35)"/><ellipse cx="593.43" cy="191.98" rx="5.21" ry="3.54" fill="#6e6a1a" transform="rotate(6.66 593.43 192.04)"/><ellipse cx="593.52" cy="192.13" rx="4.71" ry="3.11" fill="#f6e932" transform="rotate(6.66 593.43 192.04)"/><ellipse cx="593.18" cy="191.13" rx="2.73" ry="1.34" fill="#fffa90" opacity="0.35" transform="rotate(6.66 593.43 192.04)"/><ellipse cx="609.32" cy="194.79" rx="5.4" ry="3.69" fill="#6e1414" transform="rotate(7.24 609.32 194.85)"/><ellipse cx="609.42" cy="194.95" rx="4.88" ry="3.24" fill="#ee282c" transform="rotate(7.24 609.32 194.85)"/><ellipse cx="609.06" cy="193.91" rx="2.83" ry="1.39" fill="#ff6a5a" opacity="0.35" transform="rotate(7.24 609.32 194.85)"/><ellipse cx="626" cy="197.74" rx="5.6" ry="3.86" fill="#0d5a20" transform="rotate(7.67 626 197.81)"/><ellipse cx="626.1" cy="197.91" rx="5.06" ry="3.38" fill="#22b03c" transform="rotate(7.67 626 197.81)"/><ellipse cx="625.73" cy="196.83" rx="2.93" ry="1.45" fill="#6ad86a" opacity="0.35" transform="rotate(7.67 626 197.81)"/><ellipse cx="661.94" cy="204.11" rx="6.04" ry="4.22" fill="#0d5a20" transform="rotate(8.17 661.94 204.18)"/><ellipse cx="662.05" cy="204.29" rx="5.46" ry="3.7" fill="#22b03c" transform="rotate(8.17 661.94 204.18)"/><ellipse cx="661.65" cy="203.13" rx="3.16" ry="1.59" fill="#6ad86a" opacity="0.35" transform="rotate(8.17 661.94 204.18)"/><ellipse cx="563.35" cy="195.95" rx="5.38" ry="3.68" fill="#6e1414" transform="rotate(5.72 563.35 196.01)"/><ellipse cx="563.45" cy="196.11" rx="4.87" ry="3.23" fill="#ee282c" transform="rotate(5.72 563.35 196.01)"/><ellipse cx="563.09" cy="195.07" rx="2.82" ry="1.39" fill="#ff6a5a" opacity="0.35" transform="rotate(5.72 563.35 196.01)"/><ellipse cx="595.15" cy="202.05" rx="5.79" ry="4.01" fill="#6e6a1a" transform="rotate(7.61 595.15 202.12)"/><ellipse cx="595.26" cy="202.22" rx="5.24" ry="3.52" fill="#f6e932" transform="rotate(7.61 595.15 202.12)"/><ellipse cx="594.87" cy="201.11" rx="3.03" ry="1.51" fill="#fffa90" opacity="0.35" transform="rotate(7.61 595.15 202.12)"/><ellipse cx="615.71" cy="217.58" rx="6.76" ry="4.83" fill="#6e6a1a" transform="rotate(9.33 615.71 217.66)"/><ellipse cx="615.84" cy="217.78" rx="6.12" ry="4.23" fill="#f6e932" transform="rotate(9.33 615.71 217.66)"/><ellipse cx="615.39" cy="216.48" rx="3.54" ry="1.82" fill="#fffa90" opacity="0.35" transform="rotate(9.33 615.71 217.66)"/><ellipse cx="599.48" cy="227.36" rx="7.34" ry="5.33" fill="#0d5a20" transform="rotate(10.27 599.48 227.44)"/><ellipse cx="599.62" cy="227.57" rx="6.64" ry="4.68" fill="#22b03c" transform="rotate(10.27 599.48 227.44)"/><ellipse cx="599.13" cy="226.17" rx="3.84" ry="2.01" fill="#6ad86a" opacity="0.35" transform="rotate(10.27 599.48 227.44)"/><ellipse cx="619.76" cy="231.99" rx="7.67" ry="5.58" fill="#6e1414" transform="rotate(10.68 619.76 232.08)"/><ellipse cx="619.9" cy="232.21" rx="6.94" ry="4.89" fill="#ee282c" transform="rotate(10.68 619.76 232.08)"/><ellipse cx="619.39" cy="230.74" rx="4.02" ry="2.1" fill="#ff6a5a" opacity="0.35" transform="rotate(10.68 619.76 232.08)"/>
</g>
<path d="M543.2 113.1 H701 A16 16 0 0 1 717 129.1 V240.3 A13 13 0 0 1 704 253.3 H544.2 A12 12 0 0 1 532.2 241.3 V124.1 A11 11 0 0 1 543.2 113.1 Z" fill="none" stroke="#4a4a4a" stroke-width="1.2"/>
<path d="M550 82.1 L550 79.4 M550 79.4 L552.89 75.57 M550 79.4 L547.11 75.57 M557.97 86.7 L560.31 85.35 M560.31 85.35 L565.07 85.93 M560.31 85.35 L562.18 80.93 M557.97 95.9 L560.31 97.25 M560.31 97.25 L562.18 101.67 M560.31 97.25 L565.07 96.67 M550 100.5 L550 103.2 M550 103.2 L547.11 107.03 M550 103.2 L552.89 107.03 M542.03 95.9 L539.69 97.25 M539.69 97.25 L534.93 96.67 M539.69 97.25 L537.82 101.67 M542.03 86.7 L539.69 85.35 M539.69 85.35 L537.82 80.93 M539.69 85.35 L534.93 85.93" fill="none" stroke="#1f9ad6" stroke-width="1.75" stroke-linecap="butt"/>
<circle cx="550" cy="91.3" r="9.4" fill="url(#gG)"/>
<path d="M554.5 112.3 L556.1 112.3 M554.19 114.08 L555.69 114.63 M553.28 115.64 L554.51 116.67 M551.9 116.8 L552.7 118.19 M550.2 117.42 L550.48 119 M548.4 117.42 L548.12 119 M546.7 116.8 L545.9 118.19 M545.32 115.64 L544.09 116.67 M544.41 114.08 L542.91 114.63 M544.1 112.3 L542.5 112.3 M544.41 110.52 L542.91 109.97 M545.32 108.96 L544.09 107.93 M546.7 107.8 L545.9 106.41 M548.4 107.18 L548.12 105.6 M550.2 107.18 L550.48 105.6 M551.9 107.8 L552.7 106.41 M553.28 108.96 L554.51 107.93 M554.19 110.52 L555.69 109.97" stroke="#f0c4d8" stroke-width="0.9" fill="none"/>
<circle cx="549.3" cy="112.3" r="4.4" fill="#1f90dc"/>
<path d="M640.1 73.6 L640.1 70.9 M640.1 70.9 L642.99 67.07 M640.1 70.9 L637.21 67.07 M647.89 78.1 L650.23 76.75 M650.23 76.75 L655 77.33 M650.23 76.75 L652.11 72.33 M647.89 87.1 L650.23 88.45 M650.23 88.45 L652.11 92.87 M650.23 88.45 L655 87.87 M640.1 91.6 L640.1 94.3 M640.1 94.3 L637.21 98.13 M640.1 94.3 L642.99 98.13 M632.31 87.1 L629.97 88.45 M629.97 88.45 L625.2 87.87 M629.97 88.45 L628.09 92.87 M632.31 78.1 L629.97 76.75 M629.97 76.75 L628.09 72.33 M629.97 76.75 L625.2 77.33" fill="none" stroke="#222" stroke-width="1.75" stroke-linecap="butt"/>
<circle cx="640.1" cy="82.6" r="9.2" fill="url(#gR)"/>
<path d="M645 103.5 L646.4 103.5 M644.67 105.35 L645.99 105.83 M643.74 106.97 L644.81 107.87 M642.3 108.18 L643 109.39 M640.54 108.82 L640.78 110.2 M638.66 108.82 L638.42 110.2 M636.9 108.18 L636.2 109.39 M635.46 106.97 L634.39 107.87 M634.53 105.35 L633.21 105.83 M634.2 103.5 L632.8 103.5 M634.53 101.65 L633.21 101.17 M635.46 100.03 L634.39 99.13 M636.9 98.82 L636.2 97.61 M638.66 98.18 L638.42 96.8 M640.54 98.18 L640.78 96.8 M642.3 98.82 L643 97.61 M643.74 100.03 L644.81 99.13 M644.67 101.65 L645.99 101.17" stroke="#c4e4ee" stroke-width="0.9" fill="none"/>
<circle cx="639.6" cy="103.5" r="4.8" fill="#e6dc90"/>
<circle cx="639.6" cy="103.5" r="3.9" fill="#1c1c1c"/>
<path d="M508.68 183.24 L509.6 180.71 M509.6 180.71 L513.63 178.09 M509.6 180.71 L508.2 176.12 M514.29 189.37 L516.9 188.67 M516.9 188.67 L521.35 190.47 M516.9 188.67 L519.86 184.89 M512.49 197.49 L514.56 199.22 M514.56 199.22 L515.64 203.9 M514.56 199.22 L519.36 199.47 M504.04 200.56 L503.57 203.22 M503.57 203.22 L500.06 206.5 M503.57 203.22 L505.75 207.5 M497.14 194.78 L494.61 195.7 M494.61 195.7 L490.02 194.3 M494.61 195.7 L491.99 199.73 M498.71 185.91 L496.64 184.18 M496.64 184.18 L495.56 179.5 M496.64 184.18 L491.84 183.93" fill="none" stroke="#bf2038" stroke-width="1.75" stroke-linecap="butt"/>
<circle cx="505.6" cy="191.7" r="9.2" fill="url(#gY)"/>
<path d="M530.7 185.2 L532.3 185.2 M530.4 186.91 L531.9 187.46 M529.53 188.41 L530.76 189.44 M528.2 189.53 L529 190.92 M526.57 190.12 L526.85 191.7 M524.83 190.12 L524.55 191.7 M523.2 189.53 L522.4 190.92 M521.87 188.41 L520.64 189.44 M521 186.91 L519.5 187.46 M520.7 185.2 L519.1 185.2 M521 183.49 L519.5 182.94 M521.87 181.99 L520.64 180.96 M523.2 180.87 L522.4 179.48 M524.83 180.28 L524.55 178.7 M526.57 180.28 L526.85 178.7 M528.2 180.87 L529 179.48 M529.53 181.99 L530.76 180.96 M530.4 183.49 L531.9 182.94" stroke="#f6cfc0" stroke-width="0.9" fill="none"/>
<circle cx="525.7" cy="185.2" r="4" fill="#8c1c2c"/>
<g font-family="Liberation Sans, sans-serif" font-weight="700" text-anchor="middle">
<text x="0" y="0" font-size="17" fill="#222" stroke="#222" stroke-width="0.4" transform="translate(702.6 111.1) rotate(-33)">Y</text>
<text x="707.9" y="99.6" font-size="16.4" fill="#9e1c2e" stroke="#9e1c2e" stroke-width="0.4">Y</text>
<text x="0" y="0" font-size="17.5" fill="#1b9bd6" stroke="#1b9bd6" stroke-width="0.4" transform="translate(716.0 108.6) rotate(27)">Y</text>
</g>
<path d="M531.2 97 L548 136.4 M566 98.7 L552 136.4 M619.2 86.8 L635.9 126.6 M654.4 90.5 L641.4 125.6 M689.9 106.2 L706.2 146 M725 108.2 L714.2 146.9 M507.3 174.9 L549 175.9 M518.1 204.3 L547.6 180.9" fill="none" stroke="#1a1a1a" stroke-width="1.75" stroke-dasharray="1.6 1.35"/>
<circle cx="549.8" cy="137.3" r="2.7" fill="#2aa83a" stroke="#111" stroke-width="1.1" stroke-dasharray="1.2 1.1"/>
<circle cx="638" cy="126.5" r="2.7" fill="#a01c28" stroke="#111" stroke-width="1.1" stroke-dasharray="1.2 1.1"/>
<circle cx="710.6" cy="146.4" r="2.7" fill="#2aa83a" stroke="#111" stroke-width="1.1" stroke-dasharray="1.2 1.1"/>
<circle cx="550.4" cy="176.8" r="2.7" fill="#f2e42a" stroke="#111" stroke-width="1.1" stroke-dasharray="1.2 1.1"/>
<path d="M228.6 274.95 L230.7 274.95 M228.24 277.43 L230.26 278.02 M227.2 279.71 L228.97 280.84 M225.56 281.6 L226.94 283.19 M223.46 282.95 L224.33 284.86 M221.05 283.66 L221.35 285.74 M218.55 283.66 L218.25 285.74 M216.14 282.95 L215.27 284.86 M214.04 281.6 L212.66 283.19 M212.4 279.71 L210.63 280.84 M211.36 277.43 L209.34 278.02 M211 274.95 L208.9 274.95 M211.36 272.47 L209.34 271.88 M212.4 270.19 L210.63 269.06 M214.04 268.3 L212.66 266.71 M216.14 266.95 L215.27 265.04 M218.55 266.24 L218.25 264.16 M221.05 266.24 L221.35 264.16 M223.46 266.95 L224.33 265.04 M225.56 268.3 L226.94 266.71 M227.2 270.19 L228.97 269.06 M228.24 272.47 L230.26 271.88" stroke="#d9bedb" stroke-width="1.2" fill="none"/>
<circle cx="219.8" cy="274.95" r="7.1" fill="#1f97dc"/>
<path d="M359.6 274.9 L362 274.9 M359.26 277.29 L361.56 277.97 M358.25 279.5 L360.27 280.79 M356.67 281.32 L358.24 283.14 M354.63 282.63 L355.63 284.81 M352.31 283.31 L352.65 285.69 M349.89 283.31 L349.55 285.69 M347.57 282.63 L346.57 284.81 M345.53 281.32 L343.96 283.14 M343.95 279.5 L341.93 280.79 M342.94 277.29 L340.64 277.97 M342.6 274.9 L340.2 274.9 M342.94 272.51 L340.64 271.83 M343.95 270.3 L341.93 269.01 M345.53 268.48 L343.96 266.66 M347.57 267.17 L346.57 264.99 M349.89 266.49 L349.55 264.11 M352.31 266.49 L352.65 264.11 M354.63 267.17 L355.63 264.99 M356.67 268.48 L358.24 266.66 M358.25 270.3 L360.27 269.01 M359.26 272.51 L361.56 271.83" stroke="#f5c9a8" stroke-width="1.2" fill="none"/>
<circle cx="351.1" cy="274.9" r="6.8" fill="#8e1f30"/>
<path d="M495.7 274.9 L497.7 274.9 M495.35 277.35 L497.27 277.91 M494.32 279.6 L496 280.68 M492.7 281.48 L494.01 282.99 M490.61 282.81 L491.44 284.63 M488.24 283.51 L488.52 285.49 M485.76 283.51 L485.48 285.49 M483.39 282.81 L482.56 284.63 M481.3 281.48 L479.99 282.99 M479.68 279.6 L478 280.68 M478.65 277.35 L476.73 277.91 M478.3 274.9 L476.3 274.9 M478.65 272.45 L476.73 271.89 M479.68 270.2 L478 269.12 M481.3 268.32 L479.99 266.81 M483.39 266.99 L482.56 265.17 M485.76 266.29 L485.48 264.31 M488.24 266.29 L488.52 264.31 M490.61 266.99 L491.44 265.17 M492.7 268.32 L494.01 266.81 M494.32 270.2 L496 269.12 M495.35 272.45 L497.27 271.89" stroke="#a4d6ec" stroke-width="1.2" fill="none"/>
<circle cx="487" cy="274.9" r="7.2" fill="#e8dc8a"/>
<circle cx="487" cy="274.9" r="6.3" fill="#1c1c1c"/>
<g font-family="Liberation Serif, serif" font-size="16" fill="#262626" letter-spacing="0.12" stroke="#262626" stroke-width="0.12">
<text x="237.6" y="279.3">H9N2 AIV</text>
<text x="368.0" y="279.3">H1N1 AIV</text>
<text x="506.0" y="279.3">H7N9 AIV</text>
<text x="278.8" y="308.0">GMNs</text>
<text x="413.3" y="308.0">YMNs</text>
<text x="548.2" y="308.0">RMNs</text>
<text x="308.7" y="339.0">H9N2 Ab</text>
<text x="439.4" y="339.0">H1N1 Ab</text>
<text x="576.8" y="339.0">H7N9 Ab</text>
</g>
<circle cx="256.8" cy="303.2" r="12.6" fill="url(#gG)"/>
<circle cx="390.5" cy="303.0" r="12.6" fill="url(#gY)"/>
<circle cx="524.1" cy="303.2" r="12.6" fill="url(#gR)"/>
<path d="M286.2 328.3 L294 334.6 L286.2 341.2 M292.9 334.5 H302.8" fill="none" stroke="#1f9ad6" stroke-width="3.3" stroke-linejoin="miter"/>
<path d="M416 328.3 L423.8 334.6 L416 341.2 M422.7 334.5 H432.6" fill="none" stroke="#bf2038" stroke-width="3.3" stroke-linejoin="miter"/>
<path d="M552.8 328.3 L560.6 334.6 L552.8 341.2 M559.5 334.5 H569.4" fill="none" stroke="#222" stroke-width="3.3" stroke-linejoin="miter"/>
</g>
<g fill="none" stroke="#2aafaa" stroke-width="3.2" stroke-linecap="butt" stroke-linejoin="miter">
<path d="M730.1 48.16 V61.82 H736.84"/>
<path d="M740.53 48.16 V63.42"/>
<path d="M754.72 51.91 A5.08 6.03 0 1 0 755.91 57.09 H751.43"/>
<path d="M762 48.16 V63.42 M769.8 48.16 V63.42 M762 55.62 H769.8"/>
<path d="M772 49.76 H786 M779 48.16 V63.42"/>
<path d="M792.41 48.16 V61.82 H798.9"/>
<path d="M802.84 48.16 V63.42"/>
<path d="M808.94 63.42 V49.76 H816.96 M808.94 55.92 H815.81"/>
<path d="M828.15 49.76 H820.39 V61.82 H828.27 M820.39 55.92 H827.26"/>
</g>
<g fill="#2aafaa">
<circle cx="803.09" cy="43.2" r="1.85"/>
<path d="M804.49 39.28 L801.69 39.24 L803.04 27.3 L803.54 27.31 Z"/>
<path d="M800.89 38.21 L799.2 40.31 L792.04 33.34 L792.54 32.72 Z"/>
<path d="M807.32 40.35 L805.73 38.17 L814.81 32.71 L815.28 33.35 Z"/>
<path d="M796.69 41.65 L796.79 44.75 L768.91 44.74 L768.87 43.44 Z"/>
<path d="M810.12 44.75 L810.31 41.65 L828.69 43.75 L828.62 44.94 Z"/>
</g>
<g fill="#000">
<text y="384.4" font-family="'Liberation Sans','Noto Serif CJK SC',serif" font-weight="700" font-size="16.3"><tspan x="323">图</tspan><tspan x="339.4" font-size="16">16</tspan><tspan x="360.3" letter-spacing="0.24">禽流感病毒多重检测方案</tspan></text>
</g>
<g fill="#000">
<text y="402.5" font-family="'Liberation Serif','Noto Serif CJK SC',serif" font-size="16.1" letter-spacing="0.22"><tspan x="23.9">颜色编码的磁性球体</tspan><tspan x="170.9">——</tspan><tspan x="203.45">每个球体都涂有一种特定的抗禽流感病毒抗体</tspan><tspan x="530">——</tspan><tspan x="562.54">分散在病毒样本中。经过磁净化后，这</tspan></text>
<text y="422.5" font-family="'Liberation Serif','Noto Serif CJK SC',serif" font-size="16.1" letter-spacing="0.02"><tspan x="24.4">些粒子被装载到</tspan><tspan x="136.94" dy="-0.2" font-family="'Liberation Sans',sans-serif" font-size="16.5" letter-spacing="0">PDMS</tspan><tspan x="184.8" dy="0.2">阵列上并进行数字计数。</tspan></text>
</g>
<g fill="#3c3c3c" opacity="0.95">
<text x="754.6" y="457" font-family="'Liberation Sans','Noto Sans CJK SC',sans-serif" font-size="20.6" letter-spacing="-0.05">光与生物</text>
</g><g fill="#fff">
<text x="753.6" y="456" font-family="'Liberation Sans','Noto Sans CJK SC',sans-serif" font-size="20.6" letter-spacing="-0.05">光与生物</text>
</g>
<g fill="#fff" stroke="#e7e7e7" stroke-width="0.8">
<ellipse cx="724.9" cy="443.6" rx="11.9" ry="10.3"/>
<ellipse cx="736" cy="451.8" rx="10.7" ry="9.7"/>
</g>
<g fill="none" stroke="#6e6e6e" stroke-width="0.9" stroke-linecap="round" stroke-linejoin="round">
<path d="M713.05 442.7 A11.9 10.3 0 0 0 717.57 451.72" stroke="#8a8a8a"/>
<path d="M717.57 451.72 L716.6 455.9 L721.77 453.32 L725.31 454.34" fill="#fff"/>
<path d="M736.37 442.11 A10.7 9.7 0 0 0 726.73 456.65"/>
<path d="M725.82 454.8 A10.7 9.7 0 0 0 741.02 460.36" stroke="#555"/>
<path d="M741.02 460.36 L743.7 462.3 L744.2 458.04" fill="#fff" stroke="#555"/>
<path d="M744.2 458.04 A10.7 9.7 0 0 0 746.6 450.45" stroke="#8a8a8a"/>
</g>
<g fill="none" stroke="#8c8c8c" stroke-width="0.8" stroke-linecap="round">
<path d="M719.1 440.1 A1.3 1.3 0 0 1 721.7 440.1"/>
<path d="M728.4 440.4 A1.4 1.4 0 0 1 731.2 440.4"/>
<path d="M731.5 448.7 A1.2 1.2 0 0 1 733.9 448.7"/>
<path d="M739.1 448.7 A1.2 1.2 0 0 1 741.5 448.7"/>
</g>
</svg>
</body></html>
